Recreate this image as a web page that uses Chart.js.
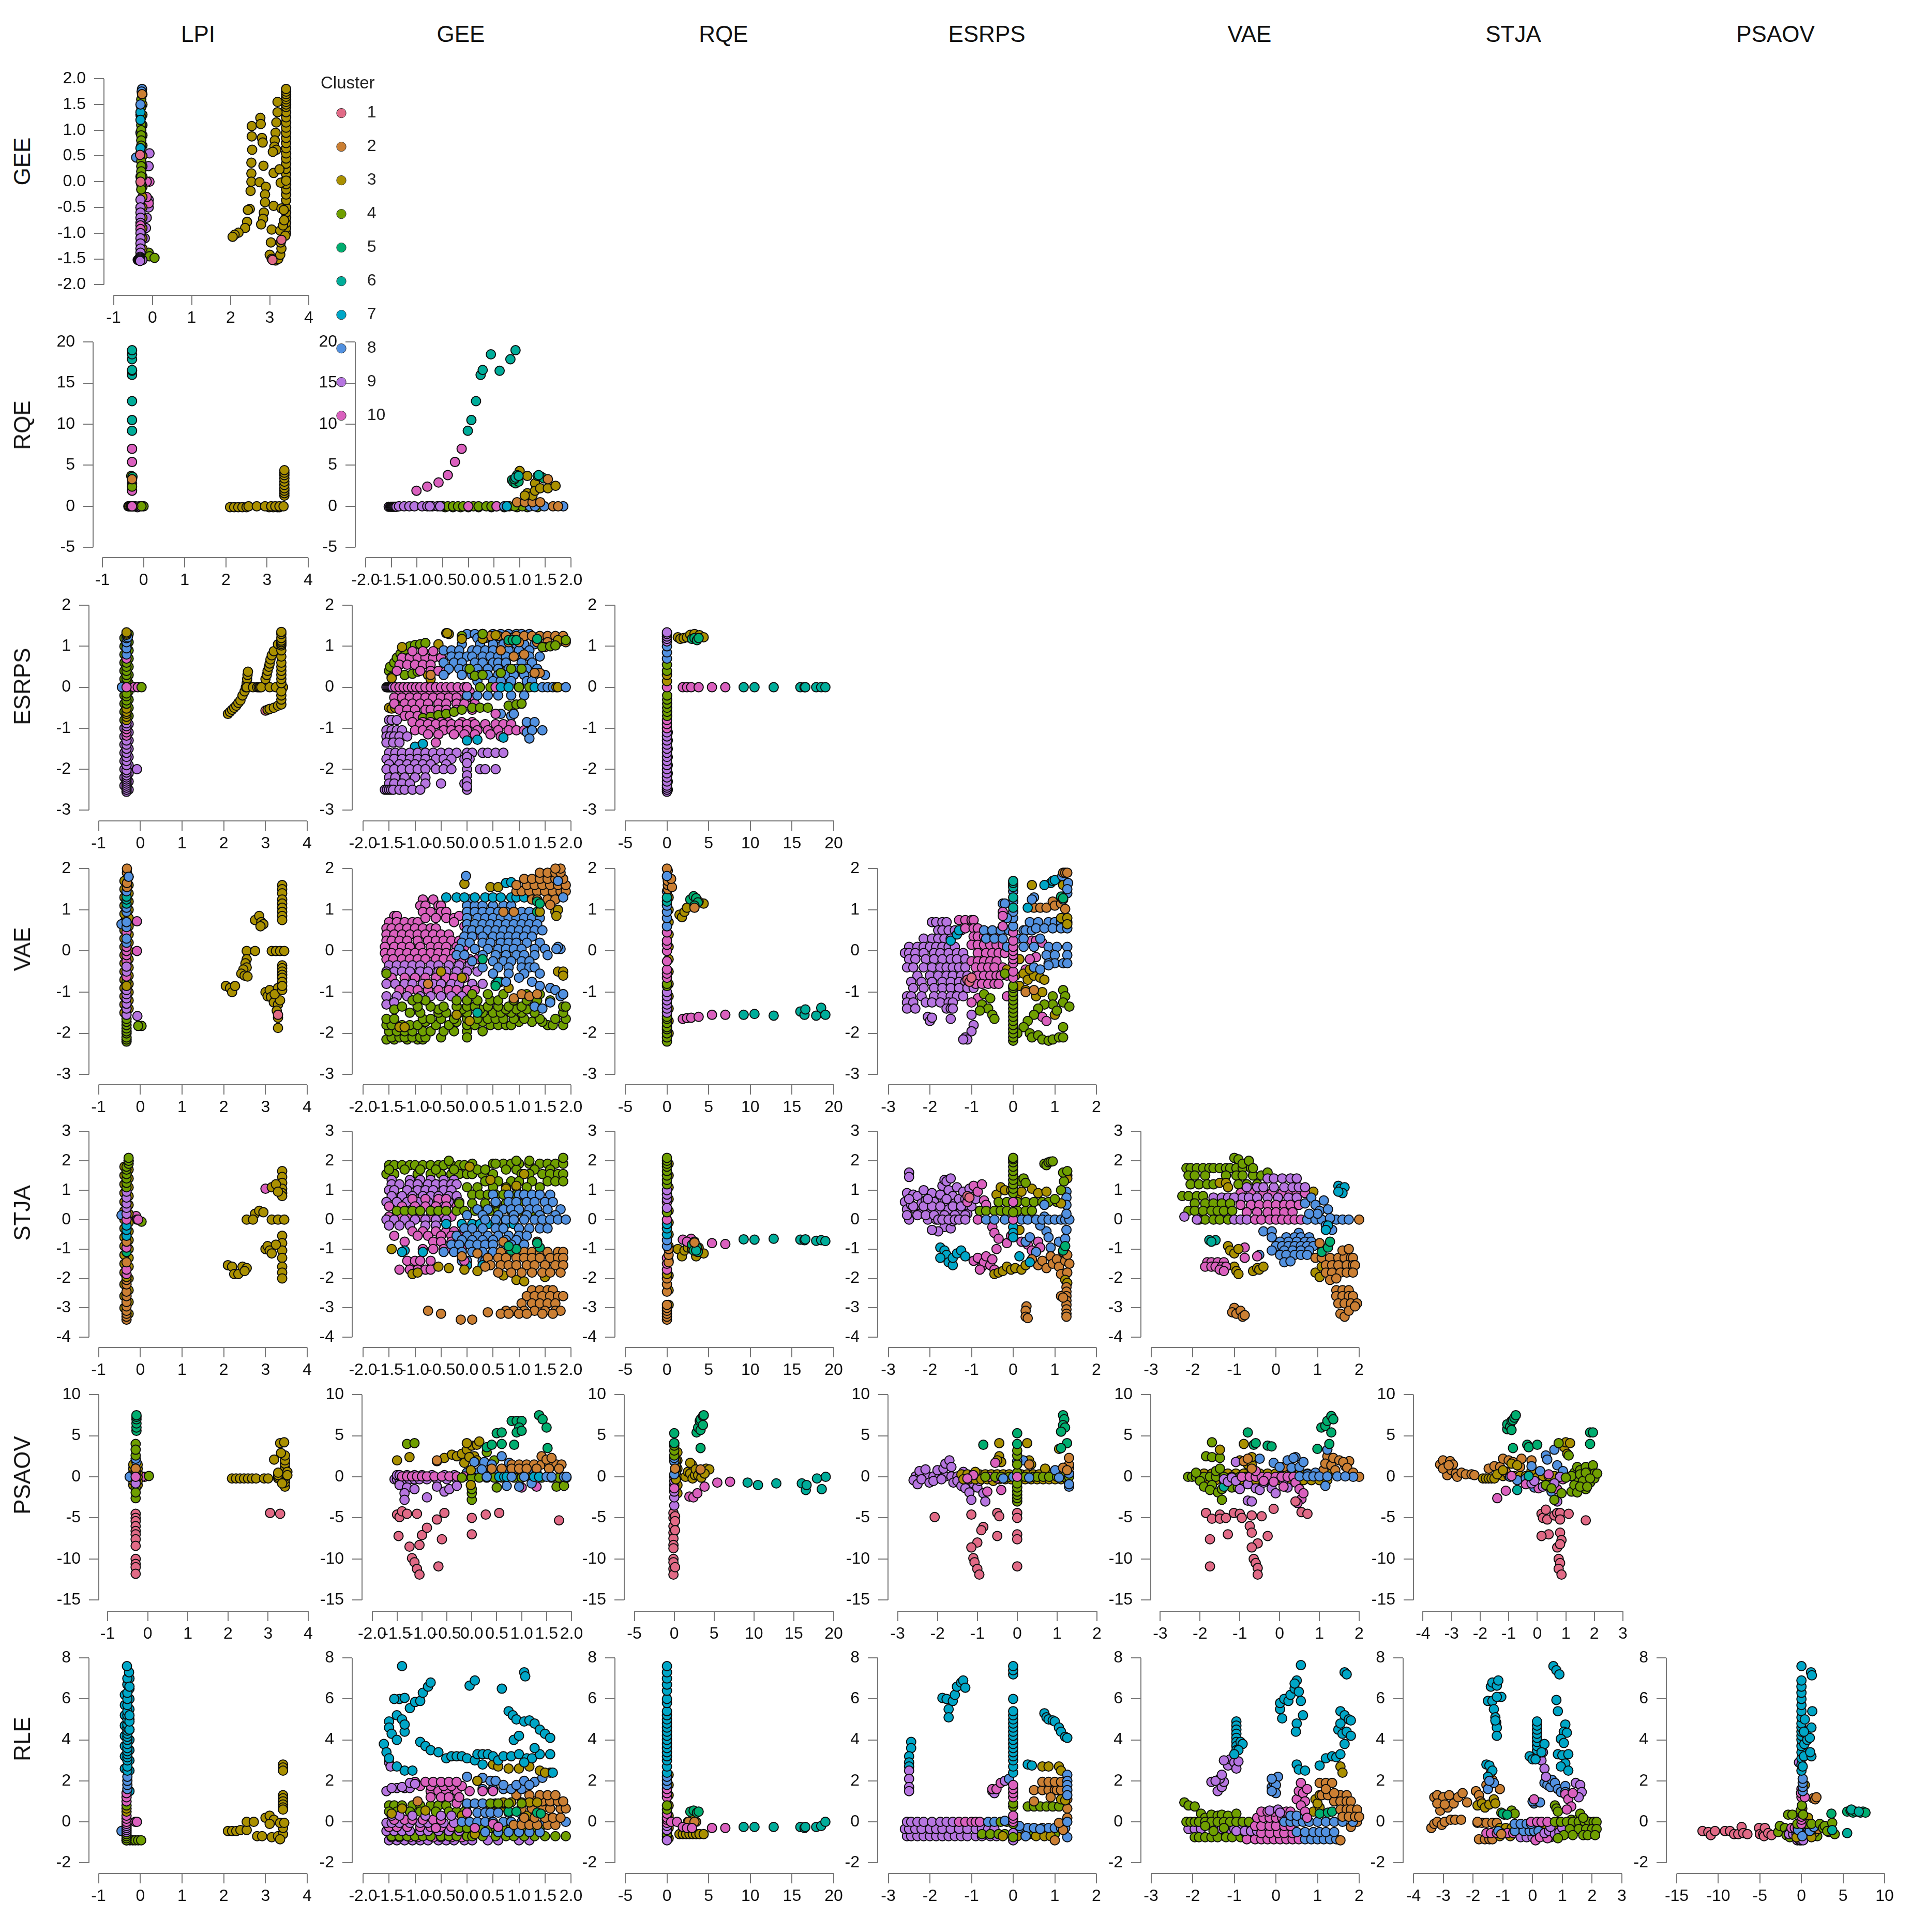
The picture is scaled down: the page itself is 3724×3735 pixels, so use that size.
<!DOCTYPE html>
<html>
<head>
<meta charset="utf-8">
<title>Cluster scatter matrix</title>
<script src="https://cdn.jsdelivr.net/npm/chart.js@4"></script>
<style>
  body { margin: 0; background: #fff; }
  #page { position: relative; width: 3724px; height: 3735px; overflow: hidden; font-family: "Liberation Sans", Arial, sans-serif; color: #111; }
  canvas { position: absolute; pointer-events: none; }
  .lab { position: absolute; font-size: 44px; line-height: 50px; white-space: nowrap; transform: translate(-50%, -50%); }
  .lab.row { transform: translate(-50%, -50%) rotate(-90deg); }
</style>
</head>
<body>
<div id="page"></div>
<script>
// tick labels per variable
const LPI_TICKS = [-1, 0, 1, 2, 3, 4];
const GEE_TICKS = [-2, -1.5, -1, -0.5, 0, 0.5, 1, 1.5, 2];
const RQE_TICKS = [-5, 0, 5, 10, 15, 20];
const ESRPS_TICKS = [-3, -2, -1, 0, 1, 2];
const VAE_TICKS = [-3, -2, -1, 0, 1, 2];
const STJA_TICKS = [-4, -3, -2, -1, 0, 1, 2, 3];
const PSAOV_TICKS = [-15, -10, -5, 0, 5, 10];
const RLE_TICKS = [-2, 0, 2, 4, 6, 8];

const CLUSTERS = ['1', '2', '3', '4', '5', '6', '7', '8', '9', '10'];
const COLORS = ['#E16A86', '#CB7F33', '#AA9000', '#6F9F00', '#00AD6F', '#00AD9A', '#00A6C7', '#5291E0', '#B675E0', '#DA60BE'];

// points, one list per panel, named row_column.
// a row is [cluster, 'x', x, y, y...] or [cluster, 'y', y, x, x...] or [cluster, 'p', x, y, x, y...]
const GEE_LPI = [
  [3, 'x', 3.42, -1.0, -.9, -.8, -.7, -.6, -.5, -.36, -.25, -.15, -.05, .05, .15, .25, .35, .45, .55, .65, .75, .85, .95, 1.05, 1.15, 1.25, 1.35, 1.45, 1.5, 1.55, 1.6, 1.65, 1.7, 1.75, 1.8],
  [3, 'p', 3.2, 1.55, 3.2, 1.35, 3.17, 1.15, 3.15, .95, 3.13, .8, 3.12, .68, 3.17, .62, 3.08, .58, 2.54, 1.08, 2.76, 1.24, 2.77, 1.12, 2.54, .88, 2.8, .85, 2.82, .76, 2.55, .62, 2.53, .37, 2.84, .31, 2.53, .16, 2.53, 0, 2.51, -.18, 2.74, -.01, 2.9, -.1, 2.88, -.25, 2.88, -.4, 3.1, .17, 3.25, .24, 3.28, -.02, 3.42, .02, 3.1, -.47, 3.3, -.52, 2.49, -.53, 2.44, -.55, 2.42, -.78, 2.37, -.9, 2.2, -.99, 2.1, -1.03, 2.05, -1.07, 2.85, -.6, 2.83, -.72, 2.78, -.83, 3.05, -.93, 3.03, -1.18, 3.0, -1.42, 3.05, -1.5, 3.15, -1.53, 3.22, -1.5, 3.27, -1.42, 3.3, -1.3, 3.28, -1.18, 3.27, -.95, 3.34, -.85, 3.4, -1.05, 3.37, -.75, 3.36, -.55],
  [1, 'p', 3.07, -1.52, 3.3, -1.13],
  [4, 'p', -.1, -1.38, -.08, -1.45, 0.05, -1.48],
  [9, 'p', -.08, .55, -.1, .3, -.1, -.35, -.1, -.5, -.15, -.7, -.17, -.9, -.2, -1.1],
  [10, 'p', -.08, 0, -.15, 0, -.1, -.42, -.15, -.3],
  [3, 'x', -.26, 1.7, 1.5, 1.3, 1.1, .9, .7, .5, .3, .1, -.1, -.3, -.5, -.7, -.9, -1.1, -1.3],
  [8, 'x', -.31, 1.3, .95, .1, -.5, .55],
  [8, 'p', -.42, .47],
  [4, 'x', -.29, 1.6, 1.45, 1.25, 1.1, 1.0, .9, .8, .7, .4, .3, .2, .1, -.05, -.15],
  [7, 'x', -.31, 1.35, 1.2, .65],
  [8, 'p', -.31, 1.5, -.27, 1.8, -.28, 1.75],
  [2, 'p', -.27, 1.7],
  [1, 'p', -.32, .52, -.31, 0],
  [9, 'x', -.31, -.35, -.5, -.6, -.7, -.8],
  [10, 'x', -.31, -.85, -.92],
  [9, 'x', -.31, -1, -1.1, -1.2, -1.3, -1.38],
  [9, 'y', -1.52, -.38, -.36, -.34, -.32, -.3, -.28, -.26],
  [9, 'x', -.32, -1.46, -1.48, -1.5, -1.52, -1.54]
];
const RQE_LPI = [
  [3, 'y', -.1, 2.1, 2.2, 2.3, 2.4, 2.5, 3.05, 3.15, 3.25, 3.3],
  [3, 'y', 0, 2.55, 2.75, 2.95, 3.1, 3.2, 3.3, 3.4],
  [3, 'x', 3.42, 1.3, 1.6, 1.9, 2.2, 2.6, 3, 3.4, 3.8, 4.1, 4.4],
  [8, 'p', -.37, 0],
  [9, 'p', -.1, 0, -.15, -.1, -.2, 0],
  [4, 'p', 0, 0, -.05, 0],
  [3, 'y', 0, -.35, -.32, -.3, -.28, -.26, -.25],
  [10, 'x', -.28, 0, 1.9, 2.8, 5.4, 7],
  [4, 'p', -.28, 2.4, -.3, 3.7],
  [5, 'p', -.27, 3.6],
  [2, 'p', -.28, 3.3],
  [6, 'x', -.28, 9.2, 10.5, 12.8, 16, 16.5, 16.6, 17.9, 18.5, 19]
];
const RQE_GEE = [
  [9, 'y', -.05, -1.55, -1.52, -1.5, -1.48, -1.46, -1.44, -1.42, -1.4],
  [9, 'y', 0, -1.35, -1.25, -1.15, -1.05, -.9, -.8, -.7, -.6],
  [4, 'y', -.1, -.45, -.3, -.15, 0, .2, .45, .7, .95, 1.15, 1.35],
  [4, 'y', 0, -.5, -.4, -.3, -.2, -.1],
  [9, 'y', 0, -.75, -.55],
  [4, 'y', 0, .1, .2, .35, .45, .55, .8, 1.05, .9],
  [10, 'p', 0, 0, .55, 0],
  [8, 'y', 0, .7, 1.2, 1.3, 1.48, 1.85],
  [7, 'p', .75, 0],
  [2, 'y', 0, 1.65, 1.75],
  [2, 'y', .5, .95, 1.1, 1.25, 1.4],
  [3, 'p', 1, 4.3, 1.15, 3.7, 1.3, 2.8, 1.15, 1.6, 1.25, 1.3, 1.3, 1.9, 1.4, 2.2, 1.55, 2.2, 1.7, 2.5, 1.1, 1.3],
  [5, 'p', .85, 3.2, .88, 2.95, .92, 2.8, .98, 3, .9, 3.3, .95, 3.8, 1.35, 3.7, 1.42, 3.6, 1.47, 3.4],
  [6, 'p', .92, 3.5, .98, 3.7, 1.37, 3.8],
  [2, 'p', 1.55, 3.3],
  [10, 'p', -1.01, 1.9, -.8, 2.4, -.58, 2.9, -.4, 3.8, -.26, 5.4, -.13, 7],
  [6, 'p', -.01, 9.2, .06, 10.5, .15, 12.8, .24, 16, .28, 16.6, .61, 16.5, .44, 18.5, .82, 17.9, .92, 19]
];
const ESRPS_LPI = [
  [3, 'p', 2.1, -.65, 2.15, -.6, 2.2, -.55, 2.25, -.5, 2.3, -.45, 2.35, -.38, 2.4, -.32, 2.45, -.2, 2.5, -.1, 2.53, 0, 2.55, .1, 2.56, .2, 2.57, .3, 2.58, .38],
  [3, 'y', 0, 2.55, 2.7, 2.8, 2.84, 2.87, 2.9, 3.1, 3.25, 3.42],
  [3, 'p', 3.0, .2, 3.03, .3, 3.05, .4, 3.08, .5, 3.1, .58, 3.12, .68, 3.15, .78, 3.2, .88, 3.3, 1.05],
  [1, 'p', 3.0, -.57],
  [3, 'p', 3.05, -.55, 3.1, -.53, 3.2, -.5, 3.3, -.45],
  [3, 'x', 3.38, -.42, -.3, -.2, -.1, .1, .2, .3, .4, .5, .6, .75, .9, 1.02, 1.06, 1.1, 1.14, 1.2, 1.3, 1.35],
  [9, 'x', -.28, -2.5, -2.3, -2.1, -1.9, -1.7, -1.5, -1.3, -1.1, -.9],
  [4, 'x', -.38, -.8, -.6, -.4, -.2, .2, .4, .6, .8, 1, 1.2],
  [9, 'x', -.38, -2.4, -2.2, -2, -1.8, -1.6, -1.4, -1.2, -1],
  [4, 'x', -.28, -.7, -.5, -.3, -.1, .1, .3, .5, .7, .9, 1.1, 1.3],
  [9, 'x', -.33, -2.55, -2.5, -2.45, -2.4, -2.35, -2.3, -2.25, -2.2, -2.15, -2.08, -2.02, -1.9, -1.8, -1.7],
  [9, 'p', -.08, -2],
  [9, 'x', -.33, -1.6, -1.5, -1.4, -1.3],
  [10, 'x', -.33, -1.18, -1.1, -1.02],
  [9, 'x', -.33, -.95, -.88],
  [3, 'x', -.33, -.8, -.72, -.65, -.6, -.52],
  [4, 'x', -.33, -.4, -.32, -.22, -.15, .15, .22, .3, .4, .5, .6, .8, .95, 1.05],
  [10, 'y', 0, -.15, -.06],
  [8, 'p', -.44, 0],
  [4, 'p', .03, 0],
  [10, 'x', -.33, 0, .7],
  [8, 'x', -.33, .8, .95, 1.1, 1.2],
  [8, 'p', -.3, 1.22],
  [3, 'x', -.33, 1.28, 1.31, 1.34]
];
const ESRPS_GEE = [
  [4, 'p', -1.5, .4, -1.48, .5, -1.4, .6, -1.35, .72, -1.28, .82, -1.2, .92, -1.1, 1.0, -1.0, 1.03, -.9, 1.05, -.8, 1.08, -1.45, .25, -1.2, .3, -1.05, .33, -.95, .38],
  [3, 'p', -1.45, .22, -1.25, .98, -.55, 1.05, -.4, 1.32, -.35, 1.3, -.75, .3, -1.5, -.5, -1.45, -.52, -1.38, -.5, -1.3, -.48, -.7, .2, .55, .7],
  [10, 'y', .72, -1.25, -1.1, -.95, -.8, -.65, -.5],
  [10, 'y', .55, -1.3, -1.15, -1.0, -.85, -.7],
  [10, 'y', .88, -1.05, -.85, -.65],
  [10, 'y', .4, -1.35, -.9, -.7, -.55, -.4],
  [2, 'p', -.7, .3, -.1, .7, .35, .5, .75, .4],
  [8, 'y', 1.3, 0, .15, .3, .5, .65, .8, .95, 1.05, 1.2],
  [8, 'y', 1.2, .2, .35, .6, .75, .85, 1],
  [8, 'y', 1.05, -.1, .25, .5, .7, .95, 1.1, 1.3],
  [8, 'y', .9, -.45, -.3, -.15, .1, .2, .35, .5, .65, .8, 1.0, 1.2],
  [8, 'y', .75, -.3, -.15, 0, .1, .3, .45, .6, .75, .9, 1.05, 1.2, 1.4],
  [8, 'y', .6, -.45, -.25, -.1, .15, .3, .5, .6, .75, 1.05, 1.25],
  [8, 'y', .45, -.35, -.15, 0, .2, .4, .6, .8, .95, 1.15, 1.35],
  [8, 'y', .3, -.45, -.1, .1, .25, .4, .6, .75, .9, 1.1, 1.3, 1.5],
  [8, 'y', .15, .2, .5, .65, .85, 1.15, 1.25],
  [4, 'p', -.1, 1.25, .05, .45, .15, .28, .3, .3, .65, .35, .85, .45, 1.05, .45],
  [2, 'y', 1.25, .45, .6, .75, .95, 1.1, 1.25, 1.4, 1.55, 1.7, 1.85],
  [2, 'y', 1.1, .8, 1.0, 1.35, 1.55, 1.75, 1.9],
  [2, 'p', .65, .9, .9, .75, 1.1, .8, 1.4, .35, 1.3, .35, 1.5, .98],
  [3, 'p', -.38, 1.32, -.1, 1.18, .3, 1.18, .55, 1.27, 1.75, 1.15],
  [5, 'p', .8, 1.15, .88, 1.15, .95, 1.15, 1.35, 1.18, .3, 1.3],
  [4, 'p', .3, 1.3, 1.45, .98, 1.6, 1, 1.7, 1.02, 1.9, 1.15],
  [10, 'y', -.1, -1.3, -1.15, -1, -.85, -.7, -.55, -.4, -.25, -.1, .05],
  [10, 'y', -.25, -1.4, -1.25, -1.1, -.95, -.8, -.65, -.5, -.35, -.2, 0, .15],
  [10, 'y', -.4, -1.4, -1.2, -1.05, -.9, -.75, -.55, -.4, -.2, -.05, .15],
  [10, 'y', -.55, -1.3, -1.15, -1, -.8, -.7, -.55, -.4, -.2, .1],
  [10, 'y', -.7, -1.2, -1.1, -.95],
  [8, 'y', -.2, 0, .2, .4, .6, .85, 1.1],
  [8, 'p', .65, -.65, .85, -.7, .9, -.65],
  [4, 'p', -.85, -.75, -.7, -.72, -.55, -.68, -.4, -.65, -.25, -.6, -.1, -.55, .1, -.5, .25, -.5, .4, -.5, .8, -.45, .95, -.42, 1.05, -.4],
  [10, 'y', -.85, -1.05, -.85, -.7, -.5, -.35, -.1, .1],
  [10, 'y', -.9, -.9, -.75, -.6, -.45, -.3, -.15, 0, .15, .35, .55, .7, .85],
  [10, 'y', -1.05, -1, -.85, -.7, -.45, -.3, -.15, 0, .2, .4, .6, .8, .95, 1.1],
  [10, 'y', -1.15, -.75, -.55, -.25, -.05, .15, .45],
  [10, 'p', -.6, -1.35, .55, -.65, .65, -1.2],
  [8, 'p', 1.15, -.85, 1.3, -.85, 1.15, -1.1, 1.25, -1.05, 1.45, -1.05, 1.2, -1.25],
  [9, 'y', -.8, -1.5, -1.45, -1.35],
  [9, 'y', -1.05, -1.55, -1.45, -1.35, -1.25],
  [9, 'y', -1.2, -1.55, -1.48, -1.4, -1.3, -1.15],
  [9, 'y', -1.35, -1.55, -1.42, -1.3],
  [7, 'p', -1, -1.45, -.85, -1.38, 0, -1.3, .2, -1.28, .7, -1.23],
  [9, 'y', -1.6, -1.5, -1.38, -1.25, -1.1, -.95, -.8, -.65, -.5, -.35, -.2, 0, .1, .3, .4, .55, .7],
  [9, 'y', -1.75, -1.55, -1.4, -1.25, -1.1, -.95, -.8, -.6, -.45, -.3, -.05, .05],
  [9, 'y', -1.88, -1.5, -1.3, -1.15, -1, -.85, -.7, -.4],
  [9, 'y', -2, -1.55, -1.4, -1.25, -1.1, -.95, -.8, -.6, -.45, -.3, 0, .25, .35, .55],
  [9, 'y', -2.2, -1.5, -1.38, -1.2, -1.0, -.8],
  [9, 'y', -2.35, -1.5, -1.4, -1.25, -1.1, -.8, -.5, -.05],
  [9, 'y', -2.5, -1.58, -1.54, -1.5, -1.46, -1.42, -1.3, -1.2, -1.05, -.9, 0],
  [9, 'x', 0, -1.7, -1.85, -2.15, -2.3, -2.42],
  [9, 'y', 0, -1.55, -1.53, -1.51, -1.49, -1.47, -1.45, -1.43],
  [10, 'y', 0, -1.38, -1.3, -1.22, -1.14, -1.06, -.98, -.9, -.8, -.7, -.6, -.5, -.4, -.3, -.18, -.05],
  [4, 'y', 0, .25, .45, 1.0, 1.2],
  [10, 'p', 0, 0, .55, 0],
  [7, 'y', 0, .65, .8, 1.3],
  [4, 'p', 1.0, 0],
  [8, 'y', 0, 1.45, 1.55, 1.65],
  [3, 'p', 1.72, 0, 1.75, 0],
  [8, 'p', 1.9, 0]
];
const ESRPS_RQE = [
  [3, 'p', 1.3, 1.22, 1.6, 1.18, 2, 1.2, 2.4, 1.22, 2.8, 1.28, 3.3, 1.3, 3.9, 1.27, 4.4, 1.22],
  [5, 'p', 3, 1.18, 3.3, 1.2, 3.6, 1.15, 3.8, 1.2],
  [10, 'y', 0, 1.9, 2.4, 2.9, 3.8, 5.4, 7],
  [6, 'y', 0, 9.2, 10.5, 12.8, 16, 16.5, 16.6, 17.9, 18.5, 19],
  [9, 'x', .1, -2.5, -2.3, -2.1, -1.9, -1.7, -1.5, -1.3, -1.1],
  [9, 'x', 0, -2.55, -2.5, -2.45, -2.4, -2.3, -2.2, -2.1, -2, -1.9, -1.8, -1.7, -1.6, -1.5, -1.4, -1.3, -1.2, -1.1],
  [10, 'x', 0, -1, -.9, -.8],
  [4, 'x', .02, -.7, -.6, -.5, -.4, -.3, -.2],
  [10, 'p', 0, 0],
  [3, 'x', 0, .15, .3],
  [4, 'x', 0, .4, .55],
  [8, 'x', 0, .7, .85, 1.0],
  [9, 'x', 0, 1.12, 1.18, 1.24, 1.3, 1.34]
];
const VAE_LPI = [
  [3, 'x', 3.4, 1.6, 1.5, 1.4, 1.25, 1.15, 1.05, .95, .85, .75],
  [3, 'p', 2.75, .75, 2.85, .85, 2.9, .7, 2.95, .65, 2.88, .6],
  [3, 'y', 0, 2.55, 2.75, 3.15, 3.25, 3.35, 3.45],
  [3, 'p', 2.55, -.2, 2.52, -.3, 2.55, -.4, 2.47, -.45, 2.42, -.55, 2.5, -.6, 2.57, -.62, 2.05, -.85, 2.15, -.9, 2.2, -1, 2.27, -.85, 3.0, -1, 3.05, -1.1, 3.1, -.95, 3.13, -1.12, 3.2, -1.25, 3.3, -1.3, 3.27, -1.45, 3.3, -1.62, 3.3, -1.87, 3.35, -1.2, 3.3, -.9, 3.22, -1.05, 3.4, -.95],
  [3, 'x', 3.4, -.35, -.42, -.5, -.58, -.65, -.75, -.85],
  [1, 'p', 3.3, -1.55],
  [3, 'x', -.38, -1.5, -1.3, -1.1, -.9, -.7, -.5, -.3, -.1, .1, .3, .5, .7, .9, 1.1, 1.3, 1.5, 1.7],
  [3, 'x', -.28, -1.4, -1.2, -1, -.8, -.6, -.4, -.2, 0, .2, .4, .6, .8, 1, 1.2, 1.4, 1.6, 1.8],
  [4, 'x', -.33, -2.2, -2.15, -2.1, -2, -1.95, -1.88, -1.8, -1.72, -1.65, -.75],
  [9, 'p', -.07, -1.58, -.33, -1.4],
  [4, 'p', .03, -1.82, -.05, -1.82],
  [9, 'x', -.33, -1.55, -1.4, -1.28, -1.15, -1.05, -.95],
  [3, 'x', -.33, -.85],
  [10, 'x', -.33, -.62, -.25, -.1, 0, .1, .45],
  [9, 'x', -.33, -.5, -.38],
  [8, 'p', -.45, .65, -.33, .2],
  [10, 'p', -.08, 0, -.08, .72],
  [8, 'x', -.33, .3, .58, .7, .95, 1.05],
  [6, 'x', -.33, 1.15, 1.25, 1.32],
  [8, 'x', -.33, 1.45],
  [2, 'x', -.32, 1.55, 1.65, 1.9, 2],
  [8, 'x', -.28, 1.8]
];
const VAE_GEE = [
  [10, 'y', .85, -1.4, -1.35],
  [10, 'y', .7, -1.5, -1.35, -1.2, -1.05, -.95],
  [10, 'y', .55, -1.55, -1.45, -1.3, -1.15, -1, -.85, -.7, -.6],
  [10, 'y', .4, -1.55, -1.4, -1.25, -1.1, -.95, -.8, -.65, -.5, -.35],
  [10, 'y', .25, -1.55, -1.45, -1.3, -1.15, -.95, -.75, -.6, -.45, -.3, -.15],
  [10, 'y', .1, -1.58, -1.4, -1.25, -1.1, -.9, -.7, -.55, -.4, -.2, -.05],
  [10, 'y', -.05, -1.58, -1.45, -1.3, -1.15, -1, -.85, -.7, -.55, -.4, -.25, -.1],
  [10, 'y', -.2, -1.55, -1.42, -1.25, -1.1, -.95, -.8, -.6, -.45, -.3, -.1, .05, .2],
  [10, 'y', 1.25, -.85, -.65],
  [10, 'y', 1.1, -.9, -.8, -.55, -.5],
  [10, 'y', .95, -.85, -.7, -.5, -.4],
  [10, 'y', .8, -.8, -.6, -.4, -.25],
  [10, 'p', -.15, .85, -.25, .7, -.05, .6, .1, .55, .2, .4],
  [9, 'y', -.35, -1.5, -1.35, -1.2, -1.05, -.9, -.7, -.55, -.35, -.15, .05],
  [9, 'y', -.5, -1.55, -1.4, -1.25, -1.1, -.9, -.75, -.55, -.4, -.2, 0, .2],
  [10, 'y', -.65, -1.45, -1.2, -1.0, -.8, -.6, -.4, -.25, -.05],
  [9, 'y', -.8, -1.55, -1.38, -1.2, -1.05, -.85, -.65, -.5, -.3, -.15, .1, .3],
  [10, 'y', -.95, -1.3, -1.1, -.95, -.75, -.55, -.35, -.2, 0, .15],
  [9, 'y', -1.1, -1.55, -1.35, -1.15, -.9, -.7, -.5, -.3, -.1, .1],
  [9, 'p', -1.55, -1.3, -1.4, -1.25, -1.5, -1.9, .55, -1.6],
  [4, 'y', -2.15, -1.55, -1.4, -1.15, -.95, -.85],
  [4, 'y', -2.1, -1.45, -1.3, -1.2, -1.05, -.9, -.8, -.5],
  [4, 'y', -1.95, -1.5, -1.35, -1.2, -1.05, -.85, -.7, -.45, -.25, 0, .3],
  [4, 'y', -1.8, -1.55, -1.45, -1.25, -1.1, -.95, -.6, -.35, 0, .15, .45, .6, .75, .85, 1.55, 1.65, 1.85],
  [4, 'y', -1.72, -.8, -.2, .3, 1.0, 1.25, 1.45],
  [4, 'y', -1.65, -1.55, -1.4, -.85, -.7, -.5, -.25, 0, .2, .4, .55, .7, .9, 1.1, 1.4, 1.7, 1.9],
  [4, 'y', -1.5, -1.1, -.9, -.55, -.4, -.15, 0, .3, .5, .65, .85, 1.05, 1.3, 1.85],
  [4, 'y', -1.42, -1.4, -.55, -.1, .25, .75, .95, 1.15],
  [4, 'y', -1.35, -1.25, -.95, -.7, -.45, -.2, 0, .15, .4, .6, .8, 1.05, 1.85],
  [4, 'y', -1.2, -1.05, -.8, -.2, 0, .2, .45, .6, .9, 1.15, 1.35, 1.6],
  [4, 'y', -1.05, .1, .4, .7, 1.15, 1.4, 1.85],
  [4, 'p', -1.55, -.55, -.95, -1.15, .0, -2.1, 1.9, -1.35],
  [3, 'p', -1.3, -1.85, -1.2, -1.85, -.5, -.5, -.1, -.65, .5, -.55, .65, -.75, .8, -.9, .05, -1.7, -.2, -1.55, 1.75, -.5, 1.85, -.5, 1.85, -.6],
  [6, 'p', .55, -.8, .6, -.75, .2, -1.5],
  [8, 'y', 1.25, 0, .05],
  [8, 'y', 1.1, 0, .15, .3, .5, .7, .85],
  [8, 'y', .95, 0, .15, .3, .45, .6, .75, .9, 1.05, 1.2],
  [8, 'y', .8, 0, .2, .35, .5, .65, .8, .95, 1.1, 1.25, 1.4],
  [8, 'y', .65, 0, .15, .3, .45, .6, .75, .9, 1.05, 1.2, 1.35],
  [8, 'y', .5, 0, .1, .25, .4, .55, .7, .85, 1, 1.15, 1.3, 1.45],
  [8, 'y', .35, -.05, .1, .3, .5, .65, .8, .95, 1.1, 1.25],
  [8, 'y', .2, -.1, .05, .3, .45, .65, .8, .95, 1.15, 1.4],
  [8, 'y', .05, -.15, .15, .4, .6, .75, .9, 1.05, 1.3, 1.5, 1.75, 1.8],
  [8, 'y', -.1, -.2, -.05, .3, .55, .75, .95, 1.1, 1.3, 1.55],
  [8, 'y', -.25, .1, .5, .7, .85, 1.05, 1.2],
  [8, 'y', -.4, .3, .6, .8, 1.05, 1.2, 1.3],
  [8, 'y', -.55, .5, .8, 1.1, 1.4],
  [8, 'p', .75, -.75, 1.0, -.65, 1.25, -.75, 1.4, -.85, 1.6, -.9, 1.7, -.95, 1.8, -1.1, 1.85, -1.05, 1.3, -1.35, 1.45, -1.4, 1.6, -1.25],
  [5, 'p', .3, -.2, .55, -.85, 1.35, .95],
  [2, 'p', -.75, -.8, .9, -1.15, 1.05, -1.05, 1.2, -1.1, 1.35, -1.05, .7, .95, .9, .95],
  [3, 'p', .45, 1.55, .6, 1.55, 1.4, .95, 1.7, .95, 1.75, 1, 1.72, .85, -.05, 1.63],
  [7, 'y', 1.3, -.4, -.2, -.05, .15, .35, .5, .65, .85, .95, 1.1, 1.25],
  [7, 'p', .75, 1.65, .85, 1.67],
  [8, 'p', -.02, 1.82, 1.65, 1.25, 1.75, .1, 1.72, .05],
  [2, 'y', 1.45, .95, 1.05, 1.2, 1.35, 1.5, 1.65, 1.8, 1.9],
  [2, 'y', 1.6, .95, 1.15, 1.3, 1.45, 1.6, 1.75, 1.9],
  [2, 'y', 1.75, 1.1, 1.25, 1.4, 1.55, 1.7, 1.85],
  [2, 'y', 1.9, 1.4, 1.55, 1.7, 1.8],
  [2, 'y', 1.25, 1.25, 1.35, 1.55, 1.7],
  [2, 'p', 1.8, 2, 1.7, 2, 1.6, 1.12],
  [5, 'p', 1.35, 1.2, 1.4, 1.15],
  [8, 'p', 1.75, 1.7, 1.85, 1.3]
];
const VAE_RQE = [
  [3, 'p', 1.5, .88, 1.8, .82, 2.1, .95, 2.4, 1.05, 4.4, 1.15, 3.8, 1.2],
  [5, 'p', 2.8, 1.25, 3.2, 1.33, 3.5, 1.28, 3.7, 1.18, 3.3, 1.1],
  [2, 'p', 3.3, 1.05],
  [10, 'p', 1.9, -1.65, 2.4, -1.63, 2.9, -1.62, 3.8, -1.6, 5.4, -1.55, 7, -1.55],
  [6, 'p', 9.2, -1.55, 10.5, -1.53, 12.8, -1.57, 16, -1.47, 16.5, -1.55, 16.6, -1.42, 17.9, -1.57, 18.5, -1.38, 19, -1.55],
  [3, 'x', .2, -2, -1.7, -1.4, -1.1, -.8, -.5, -.2, .1, .4, .7, 1, 1.3, 1.6],
  [4, 'x', 0, -2.2, -2.1, -2, -1.9, -1.85, -1.75, -1.65, -1.6],
  [9, 'x', 0, -1.5, -1.4, -1.3, -1.2, -1.1, -1],
  [4, 'x', 0, -.85, -.8],
  [10, 'x', 0, -.65, -.55, -.45, -.25, 0, .15, .25, .45],
  [8, 'x', 0, .6, .8, .95, 1.1, 1.45, 1.8],
  [6, 'x', 0, 1.2, 1.3],
  [2, 'x', .1, 1.5, 1.6, 1.7, 1.95],
  [2, 'p', .6, 1.55, .5, 1.75, 0, 2],
  [8, 'p', 0, 1.82]
];
const VAE_ESRPS = [
  [9, 'y', .7, -1.95, -1.85, -1.7, -1.6],
  [9, 'y', .5, -1.8, -1.7, -1.55, -1.4, -1.25],
  [9, 'y', .3, -2.15, -1.95, -1.8, -1.65, -1.5],
  [9, 'y', .1, -2.5, -2.3, -2.15, -2, -1.85, -1.7, -1.55, -1.4],
  [9, 'y', -.05, -2.6, -2.5, -2.35, -2.15, -1.9, -1.75, -1.55, -1.35, -1.2],
  [9, 'y', -.2, -2.5, -2.35, -2.1, -1.9, -1.7, -1.5, -1.35, -1.15],
  [9, 'y', -.4, -2.55, -2.4, -2.15, -1.95, -1.75, -1.6, -1.45, -1.3, -1.15],
  [9, 'y', -.6, -2.3, -2, -1.8, -1.6, -1.45, -1.25, -1.1, -.9],
  [9, 'y', -.75, -2.45, -2.2, -1.95, -1.7, -1.5, -1.3, -1.15],
  [9, 'y', -.9, -2.4, -2.15, -1.9, -1.7, -1.5, -1.3, -1.1, -.95],
  [9, 'y', -1.1, -2.55, -2.45, -2.2, -1.9, -1.7, -1.5, -1.35, -1.2],
  [9, 'y', -1.25, -2.55, -2.4, -2.1, -1.95, -1.75, -1.55, -1.45],
  [9, 'y', -1.4, -2.55, -2.35, -1.6, -1.5, -1.45],
  [9, 'p', -2.05, -1.6, -2.0, -1.7, -1.95, -1.62, -1.5, -1.65, -1, -1.55, -.95, -1.8, -1, -1.95, -1.15, -2.1, -1.1, -2.15, -1.2, -2.15],
  [7, 'p', -1.5, .25, -1.35, .4, -1.3, .5],
  [10, 'y', .75, -1.3, -1.15, -1, -.95],
  [10, 'y', .55, -1.15, -.95, -.85],
  [10, 'y', .35, -.95, -.85, -.7, -.5, -.3],
  [10, 'y', .15, -1.0, -.85, -.7, -.55, -.4, -.25],
  [10, 'y', -.05, -.85, -.65, -.5, -.35, -.2],
  [10, 'y', -.25, -1.0, -.85, -.7, -.55, -.4],
  [10, 'y', -.4, -.9, -.75, -.6, -.45, -.25],
  [10, 'y', -.6, -.85, -.7, -.55, -.4, -.3, -.15],
  [10, 'y', -.8, -.9, -.75, -.6, -.45, -.35],
  [1, 'p', -1.1, -.7, -1.05, -.75, -1.0, -.65],
  [10, 'p', -.85, -1.15, -1, -1.25, -.15, -1.1, .55, -.15, .4, -.2, .3, -.45, .7, -1.6, .8, -1.7, .45, .25, .55, .25, .7, .2],
  [4, 'p', -.7, -1.05, -.55, -1.15, -.75, -1.3, -.6, -1.4, -.5, -1.55, -.45, -1.65, -.8, -1.45],
  [3, 'p', -.15, -.45, .05, -.6, .25, -.55, .35, -.7, .5, -.6, .65, -.65, .75, -.7, .15, -.85, .3, -.95, .55, -1.1, .7, -1, 1.05, -1.45, 1.0, -1.55, .4, -.45, .15, -.2],
  [4, 'p', -.2, -.55, 0.95, -1.1, 1.2, -.95, 1.25, -1.1, 1.2, -1.25, 1.35, -1.35, .95, -1.3, 1.05, -1.45, .75, -1.3, .6, -1.4, .5, -1.55, .35, -1.7, .25, -1.85, .1, -2, .4, -2, .45, -2.1, .6, -2.05, .7, -2.15, .85, -2.18, .95, -2.15, 1.1, -2.1, 1.2, -2.1, 1.2, -1.85],
  [2, 'p', .3, -1, .5, -.95],
  [8, 'y', .5, -.7, -.5, -.3, -.1, .25, .3, .45],
  [8, 'y', .3, -.65, -.45, -.25, .1, .25, .65],
  [8, 'y', .1, -.15, .25, .5, .85, 1.05, 1.3],
  [8, 'y', -.1, .8, 1.0, 1.3],
  [8, 'y', -.3, .85, 1.0, 1.2, 1.3],
  [8, 'y', .7, .4, .6, .85, 1.0, 1.15, 1.3],
  [8, 'y', .55, .55, .75, .95, 1.15, 1.3],
  [8, 'p', .5, -.4, .65, -.45, .85, -.35],
  [2, 'p', .5, 1.05, .65, 1.05, .8, 1.05, .95, 1.2, 1.0, 1.1, 1.15, 1.15, 1.25, 1.02],
  [3, 'p', .45, 1.6, 1.15, .8, 1.3, .8, 1.2, 1.6, 1.3, .65],
  [7, 'p', .35, 1.05, .9, 1.65, .95, 1.7, 1.0, 1.72, .75, 1.6],
  [8, 'p', .5, 1.3, .45, 1.25, 1.18, 1.82, 1.3, 1.4, 1.2, 1.25, 1.32, 1.65, 1.3, 1.5],
  [5, 'p', 1.15, 1.32, 1.2, 1.28],
  [2, 'y', 1.9, 1.2, 1.25, 1.3],
  [4, 'x', 0, -2.18, -2.1, -2, -1.9, -1.8, -1.7, -1.6, -1.5, -1.4, -1.3, -1.2, -1.1, -1, -.9, -.85],
  [10, 'x', 0, -.65, -.5, -.3, -.2, -.1, 0, .1, .25, .45],
  [8, 'x', 0, .6, .8, .95, 1.2, 1.45, 1.6],
  [6, 'x', 0, 1.05, 1.3, 1.55, 1.65, 1.7],
  [8, 'p', -.25, 1.15, -.2, 1.15, -.15, .8],
  [10, 'x', -.25, .95, .85, .6]
];
const STJA_LPI = [
  [3, 'x', 3.4, 1.65, 1.45, 1.25, 1.05, .9, .8, -.55, -.8, -1.05, -1.3, -1.6, -1.8, -2],
  [10, 'p', 3.0, 1.05],
  [3, 'p', 3.15, 1.1, 3.25, 1.2, 3.3, .95, 2.75, .2, 2.85, .3, 2.95, .25, 3, -1, 3.05, -.9, 3.1, -1.05, 3.15, -1.15, 3.25, -.85, 2.1, -1.55, 2.2, -1.6, 2.25, -1.85, 2.35, -1.85, 2.45, -1.6, 2.55, -1.65, 2.5, -1.75],
  [3, 'y', 0, 2.55, 2.7, 3.15, 3.3, 3.45],
  [4, 'p', .03, -.07],
  [10, 'p', -.1, .12, -.08, 0, -.05, 0],
  [3, 'x', -.28, -3.2, -2.8, -2.4, -2, -1.6, -1.3, -1, -.7, -.4, -.1, .2, .5, .8, 1.1, 1.4, 1.7, 2],
  [3, 'x', -.38, -3, -2.6, -2.2, -1.8, -1.5, -1.2, -.9, -.6, -.3, 0, .3, .6, .9, 1.2, 1.5, 1.8],
  [2, 'x', -.33, -3.4, -3.3, -3.2, -3.1, -2.95, -2.8, -2.6, -2.45, -2.2, -2.05],
  [3, 'x', -.33, -1.95],
  [10, 'x', -.33, -1.85, -1.7],
  [2, 'x', -.33, -1.45],
  [5, 'x', -.33, -1.1],
  [10, 'x', -.33, -.95],
  [2, 'x', -.33, -.75],
  [7, 'x', -.33, -.55, -.35, -.2],
  [8, 'p', -.45, .15],
  [10, 'x', -.33, 0],
  [9, 'x', -.33, .2, .4, .55, .75, .95],
  [4, 'x', -.33, 1.1, 1.25, 1.4, 1.55, 1.7, 1.8],
  [4, 'x', -.28, 1.9, 2, 2.1]
];
const STJA_GEE = [
  [4, 'y', 1.85, -1.5, -1.4, -1.25, -1.1, -1.0, -.85, -.7, -.55, -.45, -.3, -.15, -.05],
  [4, 'y', 1.55, -1.55, -1.4, -.95, -.7, -.5, -.3, -.15, 0, .1, .3, .5],
  [4, 'y', 1.9, .1, .5, .7, .85, 1.0, 1.2, 1.4, 1.55, 1.7, 1.85],
  [4, 'y', 1.7, -1.5, -1.2, -.9, -.6, -.25, .2, .35, .75, .95, 1.3, 1.6],
  [4, 'y', 1.55, 1.05, 1.2, 1.45, 1.6, 1.75, 1.85],
  [4, 'y', 1.3, .35, .6, .85, 1.0, 1.25, 1.55, 1.7, 1.85],
  [4, 'y', 1.1, .0, .2, .5, .75, .95, 1.15, 1.4],
  [4, 'p', -.35, 2, .55, 1.9, 1.85, 2.1, .95, 2, 1.2, 2],
  [3, 'p', .05, 1.8, .95, 1.15, 1.1, 1.55, .45, 1.35, .75, 1.05],
  [9, 'y', 1.35, -1.45, -1.1, -.9, -.7, -.45, -.25],
  [9, 'y', 1.2, -1.45, -1.3, -1.1, -.95, -.75, -.6, -.45, -.3, -.2],
  [9, 'y', 1.0, -1.5, -1.4, -1.15, -.95, -.8, -.65, -.45, -.3],
  [9, 'y', .8, -1.45, -1.25, -1.05, -.85, -.7, -.55, -.35, -.2],
  [9, 'y', .6, -1.55, -1.35, -1.15, -.95, -.75, -.55, -.35, -.15],
  [10, 'y', .7, -1.05, -.8, -.55, -.4],
  [10, 'y', .45, -1.5, -1.25, -1, -.8, -.6, -.4, -.2],
  [10, 'y', .1, -1.5, -1.3, -1.1, -.9, -.7, -.5, -.3],
  [4, 'y', .3, -1.35, -1.2, -1.05, -.9, -.7, -.55, -.4, -.2, -.05, .15, .3, .45, .6, .85, 1, 1.25],
  [4, 'y', .85, .1, .25, .4, .55, .7, .95, 1.1],
  [4, 'y', .55, -.15, .1, .35, .55, .75, 1.0],
  [9, 'y', .0, -1.55, -1.4, -1.2, -1.0, -.8, -.6, -.4],
  [9, 'y', -.2, -1.5, -1.3, -1.1, -.8, -.6],
  [10, 'y', -.4, -1.05, -.85, -.6, -.4, -.25, -.05],
  [10, 'y', -.55, -1.4, -.95, -.75, -.5, -.3],
  [10, 'y', -.75, -1.2, -.65, -.5, -.3, -.15, 0],
  [10, 'y', -1.0, -.85, -.65, -.45, -.3, -.1],
  [7, 'y', -.15, -.4, -.1, .1, .25, .4, .55, .75, .9],
  [8, 'y', .85, .5, .8, 1.0, 1.1, 1.25, 1.4, 1.6],
  [8, 'y', .6, .55, .8, .95, 1.15, 1.3, 1.5, 1.65],
  [8, 'y', .35, .2, .4, .7, .85, 1.0, 1.2, 1.35, 1.55, 1.8],
  [8, 'y', .15, .0, .3, .6, .9, 1.15, 1.4, 1.7],
  [8, 'y', 0, .35, .55, .75, .9, 1.1, 1.3, 1.45, 1.6, 1.75, 1.9],
  [8, 'y', -.3, -.05, .1, .3, .55, .7, 1.0, 1.2, 1.4, 1.55],
  [8, 'y', -.55, -.2, 0, .2, .4, .6, .8, 1.0, 1.15],
  [8, 'y', -.7, -.1, .1, .3, .5, .75, .95],
  [8, 'y', -.85, -.3, -.15, .05, .2, .35, .5, .7, .85, 1.1],
  [8, 'y', -1.1, -.45, -.25, -.1, .1, .3, .5],
  [8, 'y', -1.4, -.1, 0, .3, .35],
  [7, 'p', -1.2, -1.05, -1.25, -1.1, -.85, -1.1, .0, -1.55, .3, -1.55],
  [10, 'y', -1.4, -1.15, -1.0, -.9, -.7, -.05],
  [10, 'y', -1.7, -1.3, -1.1, -.95, -.8, -.7],
  [3, 'p', -1.45, -1, -1.05, -1.85, -.95, -1.8, -.55, -1.6, -.35, -1.65, -.05, -1.7, .2, -1.75, .7, -1.9, .95, -2.05, 1.1, -2.1, 1.5, -1.95],
  [2, 'y', -1.1, .65, .85, 1.1, 1.25, 1.4, 1.55, 1.75, 1.85],
  [2, 'y', -1.3, .4, .6, .75, .95, 1.1, 1.25, 1.4, 1.6, 1.75, 1.85],
  [2, 'y', -1.55, .45, .65, .8, .95, 1.15, 1.3, 1.5, 1.7, 1.85],
  [2, 'y', -1.8, .6, .85, 1.05, 1.25, 1.45, 1.6, 1.8],
  [2, 'p', -.1, -1.25, .2, -1.15, .35, -1.6, .7, -.75, 1.35, -.75],
  [5, 'p', .85, -1.05, .95, -1, 1.4, -.95, .8, -.9, 1.35, -.8],
  [2, 'y', -2.4, 1.25, 1.4, 1.55, 1.65],
  [2, 'y', -2.6, 1.15, 1.3, 1.45, 1.6, 1.75, 1.85],
  [2, 'y', -2.85, 1.05, 1.25, 1.4, 1.55, 1.7],
  [2, 'y', -3.1, .75, .9, 1.1, 1.3, 1.5, 1.7, 1.8],
  [2, 'y', -3.2, .65, .8, 1.0, 1.15, 1.45, 1.65],
  [2, 'p', -.75, -3.1, -.5, -3.2, -.12, -3.4, .1, -3.4, .4, -3.15]
];
const STJA_RQE = [
  [3, 'x', .2, -2.9, -2.4, -1.9, -1.4, -.9, -.5, -.1, .3, .7, 1.1, 1.5, 1.9],
  [2, 'x', 0, -3.4, -3.3, -3.2, -3.1, -3, -2.9, -2.45, -2.2, -2],
  [3, 'x', 0, -1.85],
  [10, 'x', 0, -1.7, -1.5, -1.3],
  [2, 'x', .2, -1.45, -1.2, -1],
  [8, 'x', 0, -.9, -.7],
  [7, 'x', 0, -.5, -.3, -.15],
  [10, 'x', 0, 0, .6],
  [4, 'x', 0, .25],
  [9, 'x', 0, .4, .7, .85, 1],
  [4, 'x', 0, 1.2, 1.35, 1.5, 1.65, 1.8, 1.9, 2, 2.1],
  [3, 'p', 1.3, -1, 1.8, -1.25, 2.1, -1.05, 2.5, -.95, 3, -1, 3.5, -1.25, 4.4, -1.15, 3.8, -.95],
  [10, 'p', 1.9, -.68, 2.9, -.65, 2.4, -.75],
  [5, 'p', 3, -.85, 3.3, -.75, 3.6, -.95, 3.7, -1.1, 3.2, -1.05],
  [6, 'p', 3.5, -1.05],
  [2, 'p', 3.3, -.78],
  [10, 'p', 5.4, -.8, 7, -.83],
  [6, 'p', 9.2, -.67, 10.5, -.68, 12.8, -.65, 16, -.68, 16.5, -.7, 16.6, -.67, 17.9, -.72, 18.5, -.7, 19, -.73]
];
const STJA_ESRPS = [
  [9, 'p', -2.5, 1.6, -2.5, 1.45, -2.55, .9, -2.4, .85, -2.6, .6, -2.55, .35, -2.5, 0, -2.45, .5, -2.35, .35, -2.3, .8, -2.25, .2, -2.2, .55, -2.15, 1, -2.1, .65, -2.05, .3, -2.05, 0, -1.95, .9, -1.9, .6, -1.85, 0, -1.8, .3, -1.75, .85, -1.7, 1.15, -1.65, 1.35, -1.6, 1.3, -1.55, 1.0, -1.65, .6, -1.55, .35, -1.5, 1.4, -1.45, .8, -1.4, .55, -1.35, 1.1, -1.3, .7, -1.25, .3, -1.2, .95, -1.15, .45, -1.05, 1.05, -1.0, .65, -1.1, .2, -1.65, -.25, -1.8, -.4, -1.95, -.35, -1.5, -.3, -1.45, -.05, -1.6, .05],
  [9, 'y', .45, -2.4, -2.15, -1.95, -1.75, -1.45, -1.25, -1],
  [9, 'y', .15, -2.55, -2.3, -2.1, -1.9, -1.65, -1.4, -1.15],
  [9, 'y', .7, -2.5, -2.05, -1.6, -1.15, -.9],
  [10, 'p', -.95, 1.15, -.85, .95, -.75, 1.2, -.7, .65, -.65, .5, -.8, .3, -1.1, .6],
  [1, 'p', -1.1, .8, -1.05, .75],
  [9, 'y', 0, -1.8, -1.7, -1.55, -1.4, -1.3, -1.15],
  [10, 'p', -.85, 0, -.5, -.25, -.45, -.45, -.35, -.65, -.15, -.8, -.05, -.55, -.4, -1, .2, -.75, .35, -.85, .45, -1.05, .6, -.75, .65, -.95],
  [7, 'p', -1.75, -.95, -1.65, -1.05, -1.6, -1.2, -1.75, -1.3, -1.55, -1.45, -1.45, -1.55, -1.45, -1.3, -1.35, -1.15, -1.25, -1.05, -1.15, -1.25],
  [10, 'p', -.95, -1.4, -.85, -1.3, -.75, -1.6, -.7, -1.45, -.65, -1.25, -.55, -1.55, -.5, -1.35, -.45, -1.7, -.8, -1.7],
  [3, 'p', -.45, -1.85, -.35, -1.8, -.25, -1.75, -.15, -1.6, -.05, -1.7, .05, -1.65, .2, -1.7, .3, -1.55, .15, -.35],
  [3, 'p', -.4, .85, -.3, 1.1, -.2, 1, -.05, 1, .1, .8, .2, .95, .45, 1.05, .6, .9],
  [4, 'p', .75, 1.9, .8, 1.85, .85, 1.95, .9, 1.97, .95, 1.98, .15, 1.3, .25, 1.4, .3, 1.25],
  [4, 'y', .3, -.8, -.65, -.45, -.3, -.15, .1, .3, .45],
  [4, 'y', .6, -.35, -.15, .1, .3, .5, .7, .85, 1.05],
  [8, 'p', .3, -.75, .4, -.6, .55, -1.1, .75, .5, .75, .1, .8, -.4, .65, -.2, .9, -.95, 1.1, -.75, 1.25, -.65, .85, -.6],
  [8, 'y', 0, -.65, -.45, -.2, .2, .35, .55, .7, .85, 1, 1.15, 1.25, 1.35],
  [8, 'x', 1.28, .95, .75, .5, .2, -.35],
  [3, 'p', .8, 0.95, 1.15, .55, 1.3, 1.5, 1.3, 1.4],
  [4, 'p', 1.0, .7, 1.15, 1, 1.22, 1.3, 1.2, 1.6, 1.3, 1.65],
  [2, 'p', .6, -1.55, .7, -1.4, .8, -1.65, .9, -1.25, .95, -1.5, 1.05, -1.35, 1.1, -1.6, 1.2, -1.1, 1.25, -1.4, 1.3, -1.2, 1.35, -1.5, 1.15, -1.85, 1.3, -1.8, .45, -1.35],
  [5, 'p', 1.2, -1.05, 1.25, -.9],
  [3, 'p', 1.25, -2.05, 1.3, -2.15],
  [2, 'x', 1.28, -2.3, -2.45, -2.6, -2.75, -2.9, -3.05, -3.2, -3.3],
  [2, 'p', 1.15, -2.6, 1.2, -2.65, .32, -2.95, .3, -3.1, .3, -3.3, .35, -3.35],
  [7, 'p', .4, -1.45, .15, -1.25],
  [4, 'x', 0, .9, 1.05, 1.2, 1.35, 1.5, 1.65, 1.8, 1.95, 2.05, 2.1],
  [7, 'x', 0, -.25, -.45, -.6],
  [10, 'x', 0, 0, .6],
  [4, 'x', 0, .25]
];
const STJA_VAE = [
  [4, 'y', 1.75, -2.15, -2.05, -1.9, -1.75, -1.6, -1.5, -1.35, -1.2, -1.1, -.95, -.8, -.6],
  [4, 'y', 1.5, -2.1, -1.95, -1.7, -1.2, -.95, -.8, -.55, -.35],
  [4, 'y', 1.2, -2.05, -1.85, -1.65, -1.5, -.9, -.7, -.45],
  [4, 'p', -1, 2.1, -.9, 2.05, -.8, 1.9, -.65, 2, -.55, 1.75, -.2, 1.6],
  [4, 'y', .8, -2.25, -2.1, -1.9, -1.75],
  [3, 'p', -1.35, 1.25, -1.2, 1.25, -1.15, 1.1, .9, .95],
  [10, 'y', .9, -.85, -.6, -.3, -.1, .15, .35, .5, .7],
  [9, 'y', .75, -1.5, -1.3, -1.15, -1, -.8, -.65, -.45, -.2, .05, .3, .5],
  [9, 'y', 1.1, -.7, -.45, -.3, -.05, .2, .4, .55, .7],
  [10, 'y', .5, -.85, -.6, -.4, -.2, 0, .2, .35, .55],
  [9, 'y', 1.4, -.2, -.05, .15, .35, .5],
  [10, 'y', .25, -.7, -.45, -.2, 0, .2, .4],
  [4, 'y', .55, -1.95, -1.7, -1.5, -1.3, -1.1],
  [4, 'y', .3, -2.1, -1.95, -1.75, -1.55, -1.4, -1.25, -1.05],
  [4, 'y', 0, -1.85, -1.7, -1.5, -1.35, -1.15],
  [9, 'p', -2.2, .1, -1.9, 0],
  [9, 'y', 0, -1, -.85, -.7],
  [10, 'y', 0, -.5, -.35, -.15, 0, .15, .3, .45, .6],
  [8, 'y', 0, .75, .95, 1.1, 1.3, 1.45, 1.6, 1.75],
  [2, 'p', 2, 0],
  [8, 'p', .7, .55, .85, .75, .95, .5, 1.05, .3, 1.15, .65, 1.25, .35, 1.3, .05, 1, .2, .8, .2, 1.2, -.2, 1.35, -.35, .55, -.45, -.3, -.4, -.1, -.4],
  [8, 'y', -.6, .25, .45, .6, .8, -.1],
  [8, 'y', -.75, .1, .3, .5, .7, .85],
  [8, 'y', -.9, .0, .15, .3, .45, .6, .75, .9],
  [8, 'y', -1.05, -.1, .2, .4, .6, .8],
  [8, 'y', -1.2, -.4, .1, .25, .45, .6, .75],
  [8, 'p', .2, -1.45, .35, -1.42],
  [7, 'p', 1.5, 1.15, 1.55, 1.05, 1.65, 1.1, 1.6, .9, 1.5, .95, 1.25, -.2, 1.2, -.35],
  [10, 'p', -.75, -.95, -.45, -1.25, -.75, -1.3],
  [6, 'p', -1.6, -.7, -1.45, -.7, -1.55, -.75],
  [3, 'p', -1.15, -.9, -1.1, -1.05, -1.0, -1.15, -.9, -1.0, -1, -1.6, -.95, -1.75, -.9, -1.85, -.55, -1.75, -.45, -1.65, -.4, -1.7, -.3, -1.6],
  [10, 'y', -1.45, -1.65, -1.55, -1.4, -1.25],
  [10, 'y', -1.6, -1.7, -1.55, -1.45, -1.3, -1.2],
  [10, 'p', -1.35, -1.7, -1.25, -1.75],
  [3, 'p', .95, -1.8, 1.05, -1.95, 1.1, -1.6],
  [2, 'y', -1.3, .95, 1.1, 1.3, 1.5, 1.65, 1.8, 1.85],
  [2, 'y', -1.55, 1.2, 1.35, 1.5, 1.7, 1.85, 1.9],
  [2, 'y', -1.8, 1.2, 1.35, 1.55, 1.7, 1.85],
  [2, 'p', 1.05, -.8, 1.3, -2.05, 1.45, -2, 1.6, -1.05, 1.75, -1],
  [5, 'p', 1.1, -1.1, 1.25, -.95, 1.3, -.75],
  [2, 'y', -2.4, 1.45, 1.6, 1.75],
  [2, 'y', -2.6, 1.45, 1.6, 1.75, 1.85],
  [2, 'y', -2.85, 1.5, 1.65, 1.8, 1.95],
  [2, 'p', 1.55, -3.2, 1.65, -3.3, 1.75, -3.1, 1.9, -2.95],
  [2, 'p', -1.0, -3, -1.05, -3.15, -.95, -3.2, -.85, -3.1, -.8, -3.3, -.75, -3.25]
];
const PSAOV_LPI = [
  [3, 'y', -.2, 2.1, 2.2, 2.3, 2.4, 2.5, 2.6, 2.7, 2.9, 3],
  [3, 'x', 3.42, -1.2, -.7, -.3, 0, .4, .8, 1.2, 1.6, 2, 2.6],
  [3, 'x', 3.25, -.2, 0, .2, .5],
  [3, 'p', 3.15, 2.1, 3.3, 4.1, 3.4, 4.2, 3.32, 2.9, 3.48, .6, 3.48, .2, 3.35, -.8],
  [1, 'p', 3.05, -4.4, 3.3, -4.5],
  [1, 'x', -.3, -4.5, -5, -5.4, -6, -6.6, -7, -7.6, -8.4, -10, -10.6, -11, -11.8],
  [10, 'p', -.08, 0, -.15, 0],
  [3, 'x', -.25, -1, -.5, 0, .5, 1, 1.5],
  [3, 'x', -.36, -1, -.5, 0, .5, 1, 1.5],
  [4, 'p', .03, .1, -.3, -1.4, -.3, -2.6, -.3, -1.9, -.3, 4],
  [8, 'p', -.45, 0, -.28, 1.8, -.3, 2.2],
  [3, 'x', -.3, .4, .7, -.5],
  [2, 'p', -.3, 1],
  [9, 'p', -.3, -.8],
  [10, 'p', -.3, 0],
  [4, 'p', -.3, 2.6, -.3, 3.3],
  [5, 'x', -.28, 5.6, 6, 6.5, 7, 7.3, 7.5]
];
const PSAOV_GEE = [
  [9, 'y', -.3, -1.55, -1.5, -1.45, -1.4, -1.35, -1.25, -1.15, -1.05, -.9, -.7, -.5, -.3],
  [9, 'y', .2, -1.5, -1.45, -1.3, -1.15, -1, -.8, -.55, -.35],
  [9, 'p', -1.45, -1, -1.3, -1.3, -1.35, -2, -1.15, -1.5, -.9, -2.5, -.7, -1.2, -.55, -1.8, -.45, -1.5, -1.35, -2.8, -.3, -1.1],
  [3, 'p', -1.5, 2, -1.25, 2.4, -.7, 1.9, -.55, 2.3, -.4, 2.7, -.3, 2.5, -.2, 2.8, -.1, 3.3, 0, 3.8, .1, 3.9, .15, 4.3, -.1, 4.1, .05, 2.5, .1, 2, -.15, 1.7, -.05, 2.4],
  [4, 'p', -1.3, 4, -1.15, 4.1, 0, -2.8, 0, -2, 0, -1.5, .5, -1.3, .3, 3, .45, 2, 1.7, -1.2, 1.85, -1.1],
  [8, 'y', .5, -.1, .1, .25, .4, .55, .7, .85, 1, 1.15, 1.3],
  [10, 'y', .05, -1.4, -1.3, -1.2, -1.1, -1, -.9, -.75, -.6, -.45, -.3, -.15, 0],
  [10, 'p', 0, 0, .5, -.1, 1.0, -1.3, 1.3, -1.2],
  [4, 'y', -.1, -.2, 0, .15, .3, .45, .6, .85, 1, 1.2, 1.4, 1.6, 1.75, 1.9],
  [8, 'p', .05, 1.8, .25, 1.8, .4, 1.5, .6, 2.5, .75, 1.7, .2, .9, .7, -1.1, .95, -1.2, 1.2, -.8],
  [2, 'y', 1.5, .8, .95, 1.1, 1.25, 1.4, 1.55, 1.7, 1.8],
  [2, 'y', 1, .4, .6, .8, .95, 1.1, 1.3, 1.55, 1.75],
  [2, 'p', 1.4, 2.5, 1.5, 2.1, 1.6, 2.3, -.7, 2],
  [7, 'y', 0, .55, .65, .7, 1.25, 1.35],
  [8, 'y', 0, .3, .8, 1.05, 1.85, 1.9, 1.5, 1.6],
  [3, 'x', -.02, -1, .8],
  [1, 'p', -1.5, -4.6, -1.45, -4.9, -1.4, -4.2, -1.3, -4.5, -1.1, -4.5, -1.47, -7.2, -1.25, -8.5, -1.2, -9.9, -1.15, -10.4, -1.1, -11.2, -1.05, -11.9, -1.05, -8.3, -1, -7.1, -.9, -6.2, -.7, -5.2, -.6, -7.6, -.55, -4.4, -.67, -10.9, 0, -5, 0, -7, .28, -4.6, .55, -4.4, 1.75, -5.3],
  [5, 'p', .3, 3.6, .4, 3.9, .6, 4, .85, 3.9, .5, 5.3, .6, 5.4, .8, 6.8, .9, 6.8, 1, 6.8, .95, 6, .9, 5.4, 1.0, 5.6, 1.35, 7.5, 1.42, 7, 1.5, 6, 1.52, 3.5]
];
const PSAOV_RQE = [
  [1, 'x', -.1, -4.4, -5, -6, -6.8, -7.5, -8.3, -8.7, -10, -10.4, -11.2, -11.9],
  [1, 'x', .1, -4.8, -5.4, -6.5, -11],
  [3, 'x', .4, -2, -1, 0, 1, 2, 3],
  [9, 'x', 0, -3.5, -2.5, -1.8, -1, -.5],
  [10, 'x', 0, -1.4, 0],
  [3, 'x', .2, -.3, .5, 1, 1.5, 2],
  [8, 'x', 0, .3, 1.9, 2.3],
  [2, 'x', .1, 1],
  [4, 'x', 0, 2.6, 3.2, 3.8, 4.1],
  [5, 'p', 0, 5.3, 0, 4.1],
  [3, 'p', 1.4, 0, 1.7, .6, 2, .4, 2.3, -.2, 2.6, .2, 2.2, 1.5, 2, 1.7, 2.7, .9, 3, .2, 3.3, .8, 3.4, -.1, 3.6, .7, 4, 1.0, 4.4, .9, 3.8, .4],
  [2, 'p', 3.3, .9],
  [5, 'p', 2.8, 5.4, 3, 6, 3.2, 6.8, 3.3, 7, 3.6, 7.4, 3.7, 7.5, 3.3, 5.7, 3.6, 6.3, 3.3, 3.5],
  [10, 'p', 1.9, -2.4, 2.4, -2.5, 2.9, -2, 3.8, -1.2, 5.4, -.7, 7, -.6],
  [6, 'p', 9.2, -.7, 10.5, -1, 12.8, -.8, 16, -.8, 16.5, -1.6, 16.6, -1, 17.9, -.2, 18.5, -1.5, 19, 0]
];
const PSAOV_ESRPS = [
  [9, 'y', .05, -2.55, -2.45, -2.35, -2.25, -2.1, -1.95, -1.8, -1.65, -1.5],
  [9, 'p', -2.6, -.4, -2.5, -.9, -2.45, .7, -2.4, -.3, -2.3, .9, -2.2, -.7, -2.1, -.5, -2.0, .8, -1.9, -.3, -1.85, 1, -1.8, 1.6, -1.7, 2, -1.65, 1.2, -1.6, -.7, -1.5, -.5, -1.4, -1.1, -1.35, .6, -1.3, -1.4, -1.2, -1.9, -1.15, -2.8, -1.1, -.8, -1, -1.3, -.85, -2, -.8, -3, -.95, -.5],
  [3, 'y', .3, -1.4, -1.25, -1.1, -.95, -.8, -.65, -.5, -.35, -.2, .1, .25, .4, .55, .7, .85, 1, 1.15, 1.28],
  [3, 'y', -.3, -1.35, -1.2, -1.05, -.9, -.75, -.6, -.45, -.3, -.15, .2, .35, .5, .65, .8, .95, 1.1, 1.25],
  [3, 'p', -1.05, .6, -.6, -.5, -.45, 2.5, -.45, 4.1, -.4, 1.8, .25, 4.1, .3, 2, .35, 1.5, .7, 1, 1.05, 3.4, -.5, 2],
  [10, 'p', -.7, 0, -.5, -.2, -.4, -1.6, -.75, -1.8, -1.1, .2, -1.25, -.2, -.55, 1.7],
  [4, 'y', 0, -.8, -.55, -.4, -.2, .1, .2, .4, .5, .65, .8, 1, 1.15, 1.3],
  [8, 'p', -.35, -.2, -.1, 0, .15, 2, 0, 1.9, .95, .8, 1.05, -.1, 1.3, -1.2, 1.3, -.9, 1.3, .4, .3, -.1],
  [2, 'p', 1.3, 1.1, 1.3, 1.5, 1.3, 2.3, .3, 1.5, 1.15, 1.1, 1.25, .8],
  [1, 'p', -2.07, -4.9, -1.15, -4.6, -.5, -4.4, -.45, -4.8, -.85, -6.1, -.9, -6.5, -1, -8, -1.15, -8.6, -1.1, -9.9, -1.07, -10.4, -1, -11.2, -.95, -11.9, -.5, -7.2, 0, -7, 0, -7.6, 0, -10.9, 0, -4.4, 0, -5],
  [4, 'x', 0, -3, -2.6, -2.2, -1.8, -1.3, -.8, .5, 1.5, 2.6, 3.2],
  [10, 'p', 0, 0],
  [5, 'p', 0, 5.3, 0, 4, -.85, 3.9, 1.15, 7.5, 1.18, 7, 1.15, 6.3, 1.2, 6, 1.1, 5.5, 1.25, 4.1, 1.1, 3.5]
];
const PSAOV_VAE = [
  [3, 'y', .4, -1.9, -1.7, -1.5, -1.3, -1.1, -.9, -.7, -.5, -.3, -.1, .1, .3, .5, .7, .9, 1.1, 1.3],
  [3, 'y', -.4, -1.8, -1.6, -1.4, -1.2, -1, -.8, -.6, -.4, -.2, 0, .2, .4, .6, .8, 1, 1.2],
  [4, 'y', 0, -2.3, -2.2, -2.1, -2, -1.9, -1.75, -1.6, -1.4, -1.2, -1, -.85],
  [4, 'p', -2.1, .5, -2, -.5, -1.9, -1.2, -1.85, 2.5, -1.7, 2.4, -1.7, -1, -1.75, -1.6, -1.6, .7, -1.55, -1.9, -1.45, -1.5, -1.45, -2.8, -1.35, -.4, -1.7, 4.2, -1.2, -1.3, -1.05, -1.3, -.8, 0, -1.5, 1, -1.5, 2.3],
  [3, 'p', -1.5, 3.3, -1.0, 2, -.9, 4, -.8, 1.5, -.7, 1.5, -.7, 2.4],
  [6, 'p', -1.4, -1.2],
  [9, 'p', -1.4, -.3, -1.3, -.6, -1.2, -.1, -1.1, -.5, -1, -1.5, -.8, -.9, -.8, -2.9, -.7, -3, -.6, -1.4, -.5, -1.6, -.4, -.7, -.2, -1.4, -.1, -2, .1, -.4, .2, -1.3, -1.1, 1.8],
  [10, 'y', 0, -.95, -.75, -.6, -.45, -.3, -.1, .05, .2, .35],
  [10, 'p', -.6, .7, -.4, -.5, -.15, -.6, .1, -1.2, .4, -.7, .5, -1.5, .55, -2.7, .45, -3.2, .6, -2],
  [2, 'p', -.9, 1.9, -.8, 2.2, -.7, 1, .1, 1.2, 1.1, .8, 1.2, 2.5, 1.15, 1.6, 1.3, 1.4, 1.35, 2.3, 1.5, 2, 1.65, 1.3, 1.75, 1.9, 1.4, .8, 1.6, 1.8, 1.7, 1.1, 1.85, .5, 2, 0],
  [8, 'p', -.5, 2.2, -.15, 1.7, 0, 1.2, .2, 2, .3, 1.1, .5, 1.2, .6, 1.8, .4, 2.4, .35, 2.3, .9, .5, 1.2, 3.3, 1.15, -1.1, .7, .3, 1.85, 0],
  [8, 'y', .05, .5, .7, .85, 1, 1.2, 1.45, 1.65],
  [1, 'p', -1.85, -4.4, -1.7, -5.1, -1.5, -4.6, -1.5, -5.1, -1.35, -5, -1.3, -7, -1.15, -4.4, -1, -4.5, -.95, -5, -.7, -4.7, -.45, -4.8, -.75, -6, -.7, -6.8, -.55, -8.1, -.7, -8.6, -.65, -10, -.6, -10.5, -.55, -11.1, -.55, -11.9, -1.75, -7.6, -1.75, -10.9, -.3, -7.2, -.15, -3.9, .55, -4.3, .7, -4.5, .4, -3],
  [5, 'p', -.8, 5.4, -.65, 3.9, -.6, 4.1, -.3, 3.8, -.2, 3.7, .95, 3.4, 1.25, 4, 1.05, 6, 1.15, 6.2, 1.2, 6.8, 1.3, 7.4, 1.35, 7, 1.3, 5.4]
];
const PSAOV_STJA = [
  [2, 'p', -3.4, 1.5, -3.3, 2, -3.2, 1.2, -3.15, .2, -3.05, 1.9, -3, .8, -2.95, 1.5, -2.85, .4, -2.8, 0, -2.65, .5, -2.5, .3, -2.3, .3, -2.2, .2, -3.3, 1, -3.1, 1.4],
  [3, 'y', -.2, -1.9, -1.8, -1.7, -1.6, -1.5],
  [3, 'y', .1, -1.2, -1, -.8, -.6, -.4, -.2, 0, .2, .4, .6, .8, 1, 1.2],
  [2, 'p', -1.7, 1, -1.5, 1.3, -1.3, 1.2, -1.2, 2.2, -1, 2, -1.1, .6, -.85, 1.8, -.6, 1.2, -.55, 2.2, -.2, 2],
  [3, 'p', -1.4, .3, -1.2, .8, -.9, 1.6, -.7, 1.4, -.2, .8, .95, 3.6, 1, 4.2, 1.15, 4.1, 1.05, 2.8],
  [8, 'p', -.95, 0, -.7, -.4, -.4, -.2, -.2, 1.3, .1, .7, .3, 2.6, .35, 2.1, .6, 3.3, .7, 1.4, .9, .7, .5, -1.8, -.1, -1.3],
  [10, 'p', -1.4, -2.6, -1.1, -1.7, -.9, .1, -.4, -.9, .05, -1.4, .4, .3, .7, -1.5, .9, -.3],
  [9, 'p', -.2, -.8, .2, -1.2, .7, -3, .8, 0, .6, -.8, -.1, -.5],
  [6, 'p', -.7, -1.6, -.3, .1],
  [4, 'p', .3, -1, .5, -1.4, .6, -2.8, .85, -2, .75, 4.1, 1.1, 2.6, 1.2, -1.8, 1.3, .5, 1.3, -1, 1.4, -1.9, 1.4, 1.2, 1.5, .8, 1.6, -.9, 1.6, 0, 1.7, -1.5, 1.7, 1.2, 1.8, .2, 1.85, -.7, 1.9, .7, 1.95, 1.4, 2, .4, 2, -.2, 2.1, .4, 1.4, 0, 1.2, .1, 1, -.1, 1.5, .3, 1.6, -.5, 1.7, .5, 1.85, -.2, 1.5, -1.2, 1.75, -1.2],
  [1, 'p', .15, -4.5, .2, -5, .3, -4, .35, -5.2, .4, -7, .15, -7.2, .6, -4.7, .7, -4.4, .8, -4.4, .8, -5.2, .8, -6.8, .85, -7.7, .7, -8.6, .8, -8.2, .75, -10, .8, -10.5, .75, -11.2, .85, -11.9, 1.1, -4.5, 1.7, -5.3],
  [5, 'p', -1.05, 5.8, -1.05, 6.4, -.95, 6.1, -.9, 6.8, -.85, 6.9, -.8, 7.2, -.75, 7.5, -.9, 5.7, -.85, 3.5, -.35, 3.9, -.3, 3.6, 0, 3.9, 1.85, 4, 1.85, 5.4, 1.95, 5.4]
];
const RLE_LPI = [
  [3, 'x', 3.42, 2.8, 2.65, 2.5, 1.3, 1.15, 1, .85, .7, .6],
  [3, 'p', 2.1, -.45, 2.2, -.45, 2.3, -.45, 2.4, -.4, 2.55, -.4, 2.55, 0, 2.72, 0, 2.8, -.7, 2.92, -.7, 3, .2, 3.1, .3, 3.2, .1, 3.1, -.1, 3.15, -.75, 3.3, -.7, 3.42, -.6, 3.42, -.3, 3.35, -.05, 3.45, -.05, 3.35, -.85],
  [4, 'y', -.9, -.33, -.25, -.18, -.12, -.05, .02],
  [10, 'y', 0, -.12, -.08],
  [8, 'p', -.45, -.45],
  [7, 'x', -.26, 1.5, 2.5, 3, 3.5, 4, 4.5, 5, 5.5, 6, 6.5, 7],
  [7, 'x', -.37, 2.6, 3.2, 3.7, 4.2, 4.7, 5.2, 5.7, 6.2],
  [4, 'x', -.33, -.9, -.8, -.7, -.6],
  [9, 'x', -.33, -.5, -.4, -.3, -.2],
  [10, 'x', -.33, -.1, 0, .15, .3],
  [3, 'x', -.33, .5, .65],
  [4, 'x', -.33, .8],
  [10, 'x', -.33, 1, 1.2, 1.4],
  [8, 'x', -.31, 1.6, 1.8, 2, 2.2],
  [7, 'x', -.31, 2.5, 2.7, 3, 3.15, 3.3, 3.45, 3.6, 3.8, 4, 4.15, 4.3, 4.45, 4.6, 4.75, 5, 5.2, 5.4, 5.7, 6, 6.3, 6.7, 7],
  [7, 'p', -.26, 4.5, -.26, 4.9, -.26, 5.2, -.26, 6.6, -.27, 7.3, -.32, 7.6]
];
const RLE_GEE = [
  [9, 'y', -.9, -1.5, -1.35, -1.2, -1.05, -.9, -.75, -.55, -.4, -.25, -.05, .1, .4, .6, 1, 1.2],
  [10, 'y', -.75, -1.45, -1.3, -1.1, -.95, -.65, -.5, -.3, -.1],
  [4, 'y', -.7, -1.45, -1.3, -1.15, -1, -.85, -.7, -.5, -.35, -.2, 0, .1, .3, .55, .75, .9, 1.1, 1.3, 1.5, 1.7, 1.9],
  [9, 'y', -.45, -1.55, -1.4, -1.25, -1.1, -.9, -.75, -.55, -.35, -.15],
  [10, 'y', -.25, -1.5, -1.35, -1.15, -.9, -.7, -.5, -.3],
  [4, 'y', -.3, -.15, 0, .15, .25, .45, .55, .7, .85, 1.05, 1.25, 1.4],
  [9, 'y', -.05, -1.55, -1.45, -1.3, -1.1, -.9, -.75, -.6, -.45, -.25],
  [10, 'y', .1, -1.4, -1.2, -1.05, -.85, -.65, -.5],
  [4, 'y', .8, -1.5, -1.4, -1.25, -1.05, -.9, -.7, -.55, -.4, 0],
  [4, 'y', .5, -1.5, -1.35, -1.1, -.9, -.6, -.35, -.2, -.05],
  [9, 'y', .3, -1.45, -1.3, -1.05, -.8, -.5, -.3],
  [3, 'p', -1.45, .4, -1.25, .65, -.8, .55, .15, -.6, -.1, .3, .45, .6, .65, .7, 1.15, .3],
  [8, 'y', 0, -.1, .05, .2, .35, .5, .7, .85, 1.05, 1.3, 1.5, 1.9],
  [8, 'y', .45, 0, .2, .35, .45, .6, .8, 1.0],
  [8, 'y', -.5, .35, .6, .8, 1, 1.2, 1.4],
  [8, 'y', .9, .0, .15, .3, .55, .7],
  [2, 'y', -.15, .9, 1.05, 1.2, 1.35, 1.55, 1.7],
  [2, 'y', .2, 1.1, 1.3, 1.5, 1.65, 1.8],
  [2, 'y', .65, 1.05, 1.25, 1.45, 1.6, 1.8, 1.9],
  [2, 'y', 1, 1.3, 1.45, 1.6, 1.75, 1.85],
  [2, 'y', 1.3, .95, 1.2, 1.4, 1.55, 1.7],
  [2, 'p', -.95, 1.0, .5, 1.6, .65, .9],
  [3, 'y', .95, .7, .85, 1.05, 1.2, 1.35],
  [5, 'p', .8, .5, .95, .5, 1.35, .45, 1.42, .4],
  [10, 'p', .5, -.1, .6, -.25, 0, .45, -.2, .9, .15, -.3, -.6, -.3],
  [4, 'y', .9, .45, .6, .8, 1.05],
  [8, 'y', 1.6, .3, .5, .7, .85, 1.05],
  [8, 'p', 1.3, 1.95, 1.45, 2.15, 1.6, 2.4, .0, 2.2, .2, 2, .3, 2.15, .45, 2, .55, 2, .7, 1.8, .95, 1.8, 1.1, 2, 1.2, 1.8],
  [10, 'y', 1.5, -.7, -.55, -.4, -.2, .05, .3, .5],
  [9, 'y', 1.65, -1.35, -1.2, -1.1],
  [10, 'y', 1.75, -.9, -.7, -.45, -.3, -.1],
  [10, 'y', 1.95, -1, -.8, -.65, -.5, -.35, -.2],
  [9, 'p', -1.55, 1.5, -1.45, 1.65, -1.25, 1.7, -1.1, 1.9, -1, 1.85],
  [10, 'y', 1.2, -.7, -.5, -.35, -.15],
  [3, 'p', .5, 2.8, .6, 2.7, .8, 2.6, 1, 2.6, 1.2, 2.7, 1.4, 2.5, 1.5, 2.4, .2, 2],
  [9, 'p', -1.5, 2.9, -1.47, 2.7],
  [7, 'p', -1.6, 3.8, -1.55, 3.4, -1.5, 3.1, -1.35, 2.7, -1.2, 2.5, -1.05, 2.5, -1.5, 4.9, -1.5, 4.6, -1.45, 4.3, -1.35, 4, -1.35, 5.2, -1.25, 5, -1.2, 4.4, -1.2, 4.75, -1.25, 7.6, -1.3, 6, -1.4, 6, -1.2, 6.05, -1.1, 5.55, -1, 5.85, -.9, 5.9, -.85, 6.3, -.75, 6.6, -.7, 6.8, .05, 6.65, .15, 6.9, .67, 6.5, 1.1, 7.3, 1.12, 7.1, .8, 5.4, .88, 5.2, .95, 5, 1.1, 4.9, 1.2, 4.95, 1.3, 4.8, 1.4, 4.5, 1.5, 4.3, 1.6, 4.1, -.9, 3.9, -.8, 3.7, -.7, 3.5, -.55, 3.4, -.4, 3.1, -.3, 3.2, -.2, 3.2, -.1, 3.2, 0, 3.1, .15, 3, .2, 3.3, .3, 3.3, .4, 3.3, .5, 3.2, .6, 3, .7, 3.2, .85, 3.2, 1, 3.3, 1.15, 3.1, 1.25, 3.1, 1.4, 3.3, 1.6, 3.3, .3, 2.8, .9, 4, 1, 4.2, 1.1, 2.9, 1.3, 3.6, 1.65, 2.4]
];
const RLE_RQE = [
  [3, 'y', -.6, 1.5, 1.9, 2.3, 2.7, 3.1, 3.5, 3.9, 4.4],
  [3, 'p', 2.5, 0, 3, .1, 3.5, 0],
  [2, 'p', 2.6, 0, 3.3, 0],
  [5, 'p', 2.8, .5, 3.2, .55, 3.6, .45, 3.8, .5],
  [3, 'x', .2, -.8, -.3, .3, .8, 1.3, 1.8, 2.3],
  [4, 'x', 0, -.85, -.7, -.6],
  [9, 'x', 0, -.9, -.4, -.2],
  [10, 'x', 0, -.05, .1, .2, .4, 1.2, 1.4, 1.6],
  [10, 'y', 0, .5, 1.2],
  [4, 'x', 0, .6, .8],
  [8, 'x', 0, 1.8, 2, 2.2],
  [7, 'x', 0, 2.4, 2.7, 3, 3.2, 3.4, 3.6, 3.8, 4, 4.2, 4.4, 4.6, 4.8, 5, 5.2, 5.4, 5.8, 6, 6.4, 6.7, 7, 7.3, 7.6],
  [10, 'p', 1.9, -.25, 2.4, -.3, 3, -.3, 5.4, -.3, 7, -.3],
  [6, 'p', 9.2, -.25, 10.5, -.25, 12.8, -.25, 16, -.25, 16.5, -.3, 16.6, -.25, 17.9, -.25, 18.5, -.2, 19, 0]
];
const RLE_ESRPS = [
  [9, 'y', -.7, -2.55, -2.45, -2.3, -2.15, -2, -1.85, -1.7, -1.55, -1.4, -1.25, -1.1, -.9, -.75, -.55, -.4],
  [9, 'y', -.35, -2.6, -2.5, -2.35, -2.2, -2, -1.85, -1.7, -1.5, -1.3, -1.1, -.9, -.75, -.6, -.45],
  [9, 'y', 0, -2.55, -2.45, -2.3, -2.15, -1.95, -1.75, -1.6, -1.45],
  [10, 'y', 0, -1.3, -1.15, -1, -.9, -.8],
  [8, 'y', 0, -.6, -.45],
  [4, 'y', 0, -.3, -.15],
  [4, 'y', -.6, -.75, -.55, -.35, -.2, .4, .65, 1],
  [3, 'y', -.7, -.25, .1, .3, .55, .75, .9],
  [8, 'y', -.3, .15, .35, .5, .7, .85, 1, 1.15],
  [8, 'p', -.2, .05, .15, -.2, .3, -.7, 1.3, -.75, .65, -.35, 1.25, -.3],
  [2, 'p', 1, -.9, 1.2, -.4, 1.1, -.05],
  [4, 'y', .75, .35, .5, .65, .8, .95, 1.1],
  [2, 'y', 1.55, .5, .7, .85, 1, 1.25, 1.05, 1.15],
  [2, 'y', 1.95, .7, .85, 1, 1.2, 1.15],
  [2, 'p', .5, 1, 1.3, .2, 1.3, .65, 1.3, 1.1, .9, 1.2],
  [3, 'p', .7, 2.7, .85, 2.7, 1.1, 2.7, 1.15, 2.5, 1.15, 1.1, 1.25, 1.05],
  [8, 'x', 1.3, 2.3, 2, 1.8, 1.55, 1.3, 0],
  [7, 'p', .35, 2.8, .45, 2.75],
  [7, 'p', .75, 5.3, .8, 5.1, .85, 5, .95, 4.95, 1, 4.9, 1.1, 4.6, 1.15, 4.4, 1.25, 4.15, 1.3, 4.1],
  [9, 'p', -.5, 1.5, -.45, 1.4],
  [10, 'p', -.5, 1.6, -.4, 1.6, -.3, 1.9],
  [9, 'p', -.2, 2],
  [8, 'p', -.1, 2.1],
  [7, 'p', -2.45, 3.9, -2.45, 3.6, -2.5, 3.2, -2.5, 2.9, -2.5, 2.7],
  [9, 'p', -2.5, 2.5, -2.5, 2.1, -2.5, 1.7, -2.5, 1.5],
  [7, 'p', -1.7, 6.05, -1.6, 6, -1.55, 5.5, -1.55, 5.1, -1.45, 5.9, -1.4, 6.2, -1.35, 6.6, -1.25, 6.8, -1.2, 6.9, -1.15, 6.55],
  [9, 'x', 0, -.9, -.55],
  [4, 'x', 0, -.75, -.1, .75, .9],
  [10, 'x', 0, 0, .15, .3, 1.2, 1.4, 1.6, 1.8],
  [7, 'x', 0, 2.4, 2.7, 3, 3.2, 3.4, 3.6, 3.8, 4, 4.2, 4.4, 4.6, 4.8, 5.0, 5.2, 5.4, 6, 7.2, 7.4, 7.6]
];
const RLE_VAE = [
  [4, 'p', -2.2, .95, -2.1, .8, -1.95, .75, -1.8, .4, -1.7, .2, -1.55, .35, -1.4, .3, -1.3, .35, -1.15, .3, -.95, .4],
  [9, 'y', -.35, -2.1, -1.95, -1.8, -1.3, -1.15, -1, -.85, -.7, -.6],
  [4, 'y', 0, -2.15, -2.05, -1.95, -1.85, -1.7, -1.55, -1.4, -1.25, -1.1, -.95, -.8, -.65],
  [4, 'y', -.75, -1.95, -1.85, -1.7, -1.55, -1.4, -1.2, -1.05, -.85, -.7],
  [4, 'p', -1.7, -.2, -1.5, -.45, -1.25, -.3, -.75, -.5],
  [10, 'y', -.85, -.7, -.5, -.35, -.2, -.05, .1, .25, .4, .55],
  [8, 'y', -.85, .7, .85, 1, 1.15, 1.3, 1.45],
  [2, 'p', 1.55, -.9, 1.8, -.25, 1.95, 0],
  [9, 'y', -.45, -.95, -.75, -.6, -.45, -.3, -.1],
  [10, 'y', -.55, -.35, -.15, .05, .2, .4],
  [10, 'y', -.2, -.5, -.35, -.15, 0, .2, .35],
  [8, 'y', -.5, .5, .7, .9, 1.05, 1.2, 1.4],
  [10, 'y', .2, -.45, -.3, -.15, 0, .15, .3, .45],
  [10, 'y', .5, -.35, -.2, -.05, .1, .25, .35],
  [9, 'p', -.15, .55, .05, .6, .1, .45],
  [8, 'y', 0, .2, .35, .5, .65, .8, 1, 1.2, 1.4, 1.6, 1.85],
  [8, 'y', .3, .35, .5, .7],
  [3, 'p', .9, .5, .95, 1.1, 1.05, .7, 1.0, .9, 1.05, 1.3],
  [5, 'p', 1.05, .4, 1.25, .45, 1.35, .5],
  [2, 'y', 1.9, 1.05, 1.2, 1.35],
  [2, 'y', 1.3, 1.1, 1.25, 1.55, 1.7],
  [2, 'y', 1, 1.4, 1.55, 1.7, 1.8],
  [2, 'y', .6, 1.55, 1.7, 1.8, 1.95],
  [2, 'y', .25, 1.6, 1.75, 1.9, 2],
  [2, 'p', 1.2, 1.6, 1.4, 1.4],
  [8, 'p', -.1, 1.7, -.05, 1.9, .05, 2.2, 0, 1.8, -.1, 2.1, 0, 1.4, -.1, 1.5],
  [10, 'p', .5, 1.1, .55, 1.5, .6, 1.9, .65, 1.4, .7, 1, .75, 1.6, .6, .8, .7, .5, .75, .2],
  [9, 'p', -1.4, 1.5, -1.3, 1.7, -1.25, 1.95, -1.35, 2.1, -1.55, 1.95, -1.45, 2, -1.3, 2.3, -1.15, 2.75, -1.1, 3.05, -1.0, 2.9, -.95, 2.6, -.9, 2.95, -1.25, 3],
  [7, 'x', -.95, 4.9, 4.7, 4.5, 4.3, 4.1, 3.9, 3.7, 3.5],
  [7, 'p', -.85, 3.9, -.8, 3.8, -.9, 3.5, -1, 3.3],
  [7, 'p', .1, 5.5, .1, 5.8, .2, 6, .3, 5.9, .15, 5.05, .35, 6.2, .45, 6.5, .5, 6.9, .45, 6.75, .55, 6.35, .6, 5.9, .6, 7.65, .65, 5.2, .5, 4.8, .48, 4.4, .5, 2.8, .55, 2.55, .7, 2.5, 1.05, 2.75, 1.2, 3.1, 1.35, 3.2, 1.45, 3.15, 1.55, 3.3, 1.65, 7.3, 1.7, 7.2, 1.55, 5.4, 1.65, 5.2, 1.75, 5, 1.8, 4.95, 1.5, 4.5, 1.6, 4.3, 1.7, 4.4, 1.8, 4.2, 1.65, 3.8, 1.55, 4.8],
  [3, 'p', 1.55, 2.7, 1.6, 2.4]
];
const RLE_STJA = [
  [2, 'p', -3.3, 1.2, -3.2, 1.3, -3.1, .55, -3.0, 1.2, -2.85, .7, -2.8, 1.3, -2.65, .9, -2.5, 1.2, -2.35, 1.4, -2.2, .95, -3.4, -.3, -3.3, -.1, -3.2, 0, -3.05, -.15, -2.95, 0, -2.75, .1, -2.6, .1, -2.4, .1, -1.9, 1.5, -1.8, 1.3, -1.75, 1, -1.55, 1.8, -1.35, 2.05, -1.4, 1.85, -1.1, 1.6, -3.2, .9, -2.95, .85],
  [3, 'p', -1.85, .8, -1.7, .9, -1.6, .7, -1.45, .85, -1.3, 1.1, -1.25, .9, -1.4, 2.4],
  [7, 'p', -1.55, 2.8, -1.45, 2.75, -1.35, 2.5, -1.5, 2.2],
  [8, 'p', -1.5, 1.6, -1.3, 1.9, -1.45, 2],
  [7, 'p', -1.5, 5.9, -1.35, 5.9, -1.4, 6.6, -1.35, 6.8, -1.2, 6.65, -1.15, 6.9, -1.05, 6.1, -1.2, 6.1, -1.3, 5.5, -1.25, 5.1, -1.22, 4.85, -1.2, 4.6, -1.2, 4.2, -1.25, 4.95],
  [4, 'p', -.7, .55, -.6, .4, -.95, .35, -1.05, .45],
  [5, 'p', -1, .4, -.85, .35],
  [2, 'y', -.85, -1.8, -1.6, -1.45, -1.35],
  [2, 'y', -.05, -1.85, -1.7, -1.55, -1.35, -1.2],
  [3, 'y', -.7, -1.1, -.75],
  [3, 'y', -.3, -1.1, -.9, -.7, -.5, -.3, -.1, .1, .3, .5, .7, .9],
  [10, 'y', -.55, -1.55, -1.4, -1.2, -1.05, -.85, -.65, -.45],
  [9, 'y', -.75, -.4, -.2, 0, .2, .45, .6, .8],
  [8, 'y', -.45, -1.15, -.6, -.3, -.1, .05, .2],
  [8, 'y', -.1, -.6, -.4, -.2, -.05],
  [8, 'p', .05, .9, .1, 1.0, .25, .95, 0, 1.0],
  [10, 'p', .05, 1.1, .1, -.9, .25, -.75, .5, -.8],
  [4, 'p', .75, .8, .8, .65, .85, .5],
  [9, 'p', .4, -.55, .55, -.45, .75, -.6, .9, -.5, 1.0, -.3, .6, -.25],
  [10, 'y', 0, -.05, .15, .3, .5, .85],
  [8, 'p', .4, 1.9, .5, 1.8, .6, 1.7, .65, 2.05, .75, 1.9, .85, 1.6, .95, 1.45, 1.1, 1.75, 1.1, 1.45],
  [9, 'p', .3, 3, .4, 2.6, .45, 2.2, .35, 3.4, 1.45, 1.9, 1.6, 1.8, 1.65, 1.45, 1.55, 1.2],
  [10, 'p', 1.1, 1.35, 1.2, 1.1, 1.35, 1.4, 1.3, .75, 1.15, .6],
  [7, 'x', .15, 3.3, 3.5, 3.7, 3.9, 4.1, 4.3, 4.5, 4.7, 4.9],
  [7, 'p', -.1, 3.2, 0, 3.05, .1, 3.05, .4, 3.8, .3, 3.4, .7, 7.6, .8, 7.4, .9, 7.2, .8, 5.95, .85, 5.4, 1.1, 4.75, 1.05, 4.4, 1.15, 4.35, .95, 4.05, 1.05, 3.85, .85, 3.3, 1, 3.25, 1.1, 2.85, 1.2, 3.3, .95, 2.7, 1.2, 2.5],
  [4, 'y', .1, 1.3, 1.5, 1.6, 1.75],
  [4, 'y', 0, .75, .95, 1.15, 1.35, 1.55, 1.75, 1.9, 2.05, 2.15],
  [4, 'y', -.35, 1.25, 1.55, 1.8, 2, 2.15],
  [4, 'y', -.65, 1.05, 1.35, 1.7, 1.85, 2.1],
  [4, 'p', 1.6, .4, 1.7, .2],
  [4, 'p', .85, -.8],
  [2, 'p', -1.85, 0, -1.05, -.6]
];
const RLE_PSAOV = [
  [1, 'p', -11.9, -.45, -11.2, -.5, -10.9, -.65, -10.4, -.45, -9.2, -.45, -8.6, -.45, -8.1, -.6, -7.6, -.6, -7.2, -.25, -7, -.55, -6.5, -.6, -5.1, -.3, -5, -.6, -4.6, -.6, -4.5, -.7, -4.4, -.3, -4, -.55, -3.6, -.65],
  [4, 'p', -2.8, -.5, -2.6, -.2, -2, -.3, -1.8, -.65, -1.4, -.75, -1.6, .35, -1.1, .35, -1.3, -.4, -.9, -.3, -.7, -.55, 1.5, -.6, 1.9, -.7],
  [3, 'y', -.5, -1.2, -.8, -.4, 0, .4, .8, 1.2, 1.6],
  [9, 'y', -.9, -.5, -.2, -.05, .2],
  [9, 'y', -.6, -1.5, -1, -.6, -.3, 0, .3, .6],
  [3, 'p', -.6, -.75, .1, .65, 1.2, -.75, .4, 1.8, .8, .2],
  [10, 'y', -.3, -1.2, -.8, -.45, -.1, .1, .3],
  [2, 'y', -.35, .8, 1, 1.3, 1.6, 2],
  [8, 'p', -.4, -.4, .1, -.7, .6, -.2, 1, -.45, 1.5, -.25, 3.3, -.5],
  [4, 'y', -.1, -.5, .4, .75, 1.2],
  [10, 'x', 0, -.1, .1, .25, .4, 1.2, 1.4, 1.6],
  [4, 'p', -.1, .55, .05, .8, .2, .35],
  [2, 'p', 1.4, 1.15, 1.65, 1.1, 1.8, 1.2],
  [10, 'p', -.05, 1.4, .4, 1.2],
  [8, 'x', .15, 1.5, 1.7, 1.9, 2.1],
  [4, 'p', 2.2, -.1, 2.6, -.3, 2.8, -.2, 3.1, -.45, 3.7, -.05, 4, -.6],
  [6, 'p', 3.7, -.4, 5.5, -.55],
  [5, 'p', 3.6, .4],
  [5, 'p', 5.5, .5, 5.9, .55, 6.2, .45, 6.5, .5, 7.1, .45, 7.4, .5, 7.7, .45],
  [6, 'p', 6, .6, 6.9, .5],
  [9, 'p', -.3, 2.9],
  [7, 'x', 0, 2.5, 2.8, 3.1, 3.4, 3.7, 4, 4.2, 4.4, 4.6, 4.8, 5.1, 5.4, 5.7, 6, 6.3, 6.6, 6.9, 7.6],
  [7, 'p', .15, 2.7, .3, 3.2, .35, 3.8, .5, 4.3, .7, 4, 1, 4.1, 1.2, 3.2, 1.05, 3.4, 1.2, 4.6, 1.3, 5.4, 1.15, 7.3, 1.25, 7.15, .4, 5, .3, 4.4]
];

// variable name -> ticks
const TICKS = { LPI: LPI_TICKS, GEE: GEE_TICKS, RQE: RQE_TICKS, ESRPS: ESRPS_TICKS, VAE: VAE_TICKS, STJA: STJA_TICKS, PSAOV: PSAOV_TICKS, RLE: RLE_TICKS };

const COLS = ['LPI', 'GEE', 'RQE', 'ESRPS', 'VAE', 'STJA', 'PSAOV'];
const ROWS = ['GEE', 'RQE', 'ESRPS', 'VAE', 'STJA', 'PSAOV', 'RLE'];

const PANELS = [
  ['GEE', 'LPI', GEE_LPI], ['RQE', 'LPI', RQE_LPI], ['RQE', 'GEE', RQE_GEE],
  ['ESRPS', 'LPI', ESRPS_LPI], ['ESRPS', 'GEE', ESRPS_GEE], ['ESRPS', 'RQE', ESRPS_RQE],
  ['VAE', 'LPI', VAE_LPI], ['VAE', 'GEE', VAE_GEE], ['VAE', 'RQE', VAE_RQE], ['VAE', 'ESRPS', VAE_ESRPS],
  ['STJA', 'LPI', STJA_LPI], ['STJA', 'GEE', STJA_GEE], ['STJA', 'RQE', STJA_RQE], ['STJA', 'ESRPS', STJA_ESRPS], ['STJA', 'VAE', STJA_VAE],
  ['PSAOV', 'LPI', PSAOV_LPI], ['PSAOV', 'GEE', PSAOV_GEE], ['PSAOV', 'RQE', PSAOV_RQE], ['PSAOV', 'ESRPS', PSAOV_ESRPS], ['PSAOV', 'VAE', PSAOV_VAE], ['PSAOV', 'STJA', PSAOV_STJA],
  ['RLE', 'LPI', RLE_LPI], ['RLE', 'GEE', RLE_GEE], ['RLE', 'RQE', RLE_RQE], ['RLE', 'ESRPS', RLE_ESRPS], ['RLE', 'VAE', RLE_VAE], ['RLE', 'STJA', RLE_STJA], ['RLE', 'PSAOV', RLE_PSAOV]
];

// page layout in pixels
const ROW_BOX = {
  GEE: [147, 550, 571], RQE: [656, 1058, 1078], ESRPS: [1165, 1566, 1587], VAE: [1674, 2077, 2097],
  STJA: [2182, 2585, 2605], PSAOV: [2691, 3093, 3115], RLE: [3200, 3601, 3622]
};
// [y axis line, first tick, last tick]
const COL_BOX = {
  LPI: { std: [172, 190.6, 594], GEE: [200.5, 219, 596], RQE: [180, 198, 596], PSAOV: [191, 208, 596] },
  GEE: { std: [681, 702, 1104], RQE: [687, 707, 1104], PSAOV: [699.5, 719, 1104] },
  RQE: { std: [1189, 1209, 1612], PSAOV: [1207, 1226.6, 1612] },
  ESRPS: { std: [1697, 1717.5, 2120], PSAOV: [1716.5, 1735, 2120] },
  VAE: { std: [2206, 2225.6, 2628], PSAOV: [2224.6, 2243, 2628] },
  STJA: { std: [2733, 2751.4, 3138], RLE: [2713, 2733, 3136] },
  PSAOV: { std: [3222, 3242, 3644] }
};
const TITLE_X = [383, 891, 1399, 1908, 2416, 2926, 3433];
const ROW_LABEL_Y = [312, 822, 1327, 1835, 2345, 2852, 3362];

const AXIS_COLOR = '#777';
const page = document.getElementById('page');

function toDatasets(rows) {
  const sets = [];
  rows.forEach(function(row) {
    const c = row[0], mode = row[1], vals = row.slice(2), pts = [];
    if (mode === 'x') vals.slice(1).forEach(v => pts.push({ x: vals[0], y: v }));
    else if (mode === 'y') vals.slice(1).forEach(v => pts.push({ x: v, y: vals[0] }));
    else for (let i = 0; i < vals.length; i += 2) pts.push({ x: vals[i], y: vals[i + 1] });
    const last = sets[sets.length - 1];
    if (last && last.cluster === c) { last.data = last.data.concat(pts); return; }
    sets.push({
      cluster: c, label: CLUSTERS[c - 1], data: pts, clip: false,
      pointRadius: 9, pointBorderWidth: 2, pointBorderColor: '#0d0d0d', pointBackgroundColor: COLORS[c - 1]
    });
  });
  // the first dataset is painted last, so flip to keep the listed order
  return sets.reverse();
}

// R style axis lines that run only from first to last tick
const axisLines = {
  id: 'axisLines',
  afterDraw(chart) {
    const c = chart.ctx, a = chart.chartArea, xs = chart.scales.x, ys = chart.scales.y;
    const xt = xs.ticks, yt = ys.ticks;
    c.save();
    c.strokeStyle = AXIS_COLOR;
    c.lineWidth = 2;
    c.beginPath();
    c.moveTo(xs.getPixelForValue(xt[0].value), a.bottom);
    c.lineTo(xs.getPixelForValue(xt[xt.length - 1].value), a.bottom);
    c.moveTo(a.left, ys.getPixelForValue(yt[0].value));
    c.lineTo(a.left, ys.getPixelForValue(yt[yt.length - 1].value));
    c.stroke();
    c.restore();
  }
};

function scaleOpts(ticks, lo, hi, fmt, isX) {
  return {
    type: 'linear', min: lo, max: hi,
    afterBuildTicks: s => { s.ticks = ticks.map(value => ({ value })); },
    afterFit: s => { if (isX) s.height = 90; else s.width = 130; },
    border: { display: false },
    grid: { drawOnChartArea: false, drawTicks: true, tickLength: 19, color: AXIS_COLOR, lineWidth: 2 },
    ticks: {
      autoSkip: false, maxRotation: 0, minRotation: 0, color: '#111',
      padding: isX ? 6 : 16,
      font: { family: '"Liberation Sans", Arial, sans-serif', size: 32 },
      callback: fmt
    }
  };
}

PANELS.forEach(function(p) {
  const rowName = p[0], colName = p[1];
  const rb = ROW_BOX[rowName], cb = COL_BOX[colName];
  const box = cb[rowName] || cb.std;
  const xt = TICKS[colName], yt = TICKS[rowName];
  const xMin = xt[0], xMax = xt[xt.length - 1], yMin = yt[0], yMax = yt[yt.length - 1];
  // axes sit a little off the data range, like base R
  const xLo = xMin - (box[1] - box[0]) * (xMax - xMin) / (box[2] - box[1]);
  const yLo = yMin - (rb[2] - rb[1]) * (yMax - yMin) / (rb[1] - rb[0]);

  const cv = document.createElement('canvas');
  const left = Math.round(box[0]) - 130, top = rb[0] - 30;
  const w = Math.round(box[2] - box[0]) + 170, h = rb[2] - rb[0] + 120;
  cv.style.left = left + 'px';
  cv.style.top = top + 'px';
  cv.style.width = w + 'px';
  cv.style.height = h + 'px';
  cv.width = w;
  cv.height = h;
  page.appendChild(cv);

  new Chart(cv, {
    type: 'scatter',
    data: { datasets: toDatasets(p[2]) },
    options: {
      responsive: false, animation: false, devicePixelRatio: 1,
      layout: { autoPadding: false, padding: { left: 0, top: 30, right: 40, bottom: 0 } },
      plugins: { legend: { display: false }, tooltip: { enabled: false } },
      scales: {
        x: scaleOpts(xt, xLo, xMax, v => colName === 'GEE' ? v.toFixed(1) : String(v), true),
        y: scaleOpts(yt, yLo, yMax, v => rowName === 'GEE' ? v.toFixed(1) : String(v), false)
      }
    },
    plugins: [axisLines]
  });
});

// legend on its own transparent chart, above the panels
const legendCv = document.createElement('canvas');
legendCv.style.left = '620px';
legendCv.style.top = '120px';
legendCv.style.width = '300px';
legendCv.style.height = '900px';
legendCv.style.zIndex = 5;
legendCv.width = 300;
legendCv.height = 900;
page.appendChild(legendCv);
new Chart(legendCv, {
  type: 'scatter',
  data: {
    datasets: CLUSTERS.map((name, i) => ({
      label: '   ' + name, data: [], pointStyle: 'circle',
      pointBackgroundColor: COLORS[i], pointBorderColor: '#333', pointBorderWidth: 1
    }))
  },
  options: {
    responsive: false, animation: false, devicePixelRatio: 1,
    scales: { x: { display: false }, y: { display: false } },
    layout: { padding: 0 },
    plugins: {
      tooltip: { enabled: false },
      legend: {
        position: 'left', align: 'start', maxWidth: 200,
        title: { display: true, text: 'Cluster', position: 'start', color: '#222', padding: { top: 25, bottom: -15 }, font: { family: '"Liberation Sans", Arial, sans-serif', size: 33 } },
        labels: {
          usePointStyle: true, boxWidth: 14, boxHeight: 13, padding: 33, color: '#222',
          font: { family: '"Liberation Sans", Arial, sans-serif', size: 32 }
        }
      }
    }
  }
});

// variable names along the top and left
COLS.forEach(function(name, i) {
  const d = document.createElement('div');
  d.className = 'lab';
  d.textContent = name;
  d.style.left = TITLE_X[i] + 'px';
  d.style.top = '66px';
  page.appendChild(d);
});
ROWS.forEach(function(name, i) {
  const d = document.createElement('div');
  d.className = 'lab row';
  d.textContent = name;
  d.style.left = '43px';
  d.style.top = ROW_LABEL_Y[i] + 'px';
  page.appendChild(d);
});
</script>
</body>
</html>
